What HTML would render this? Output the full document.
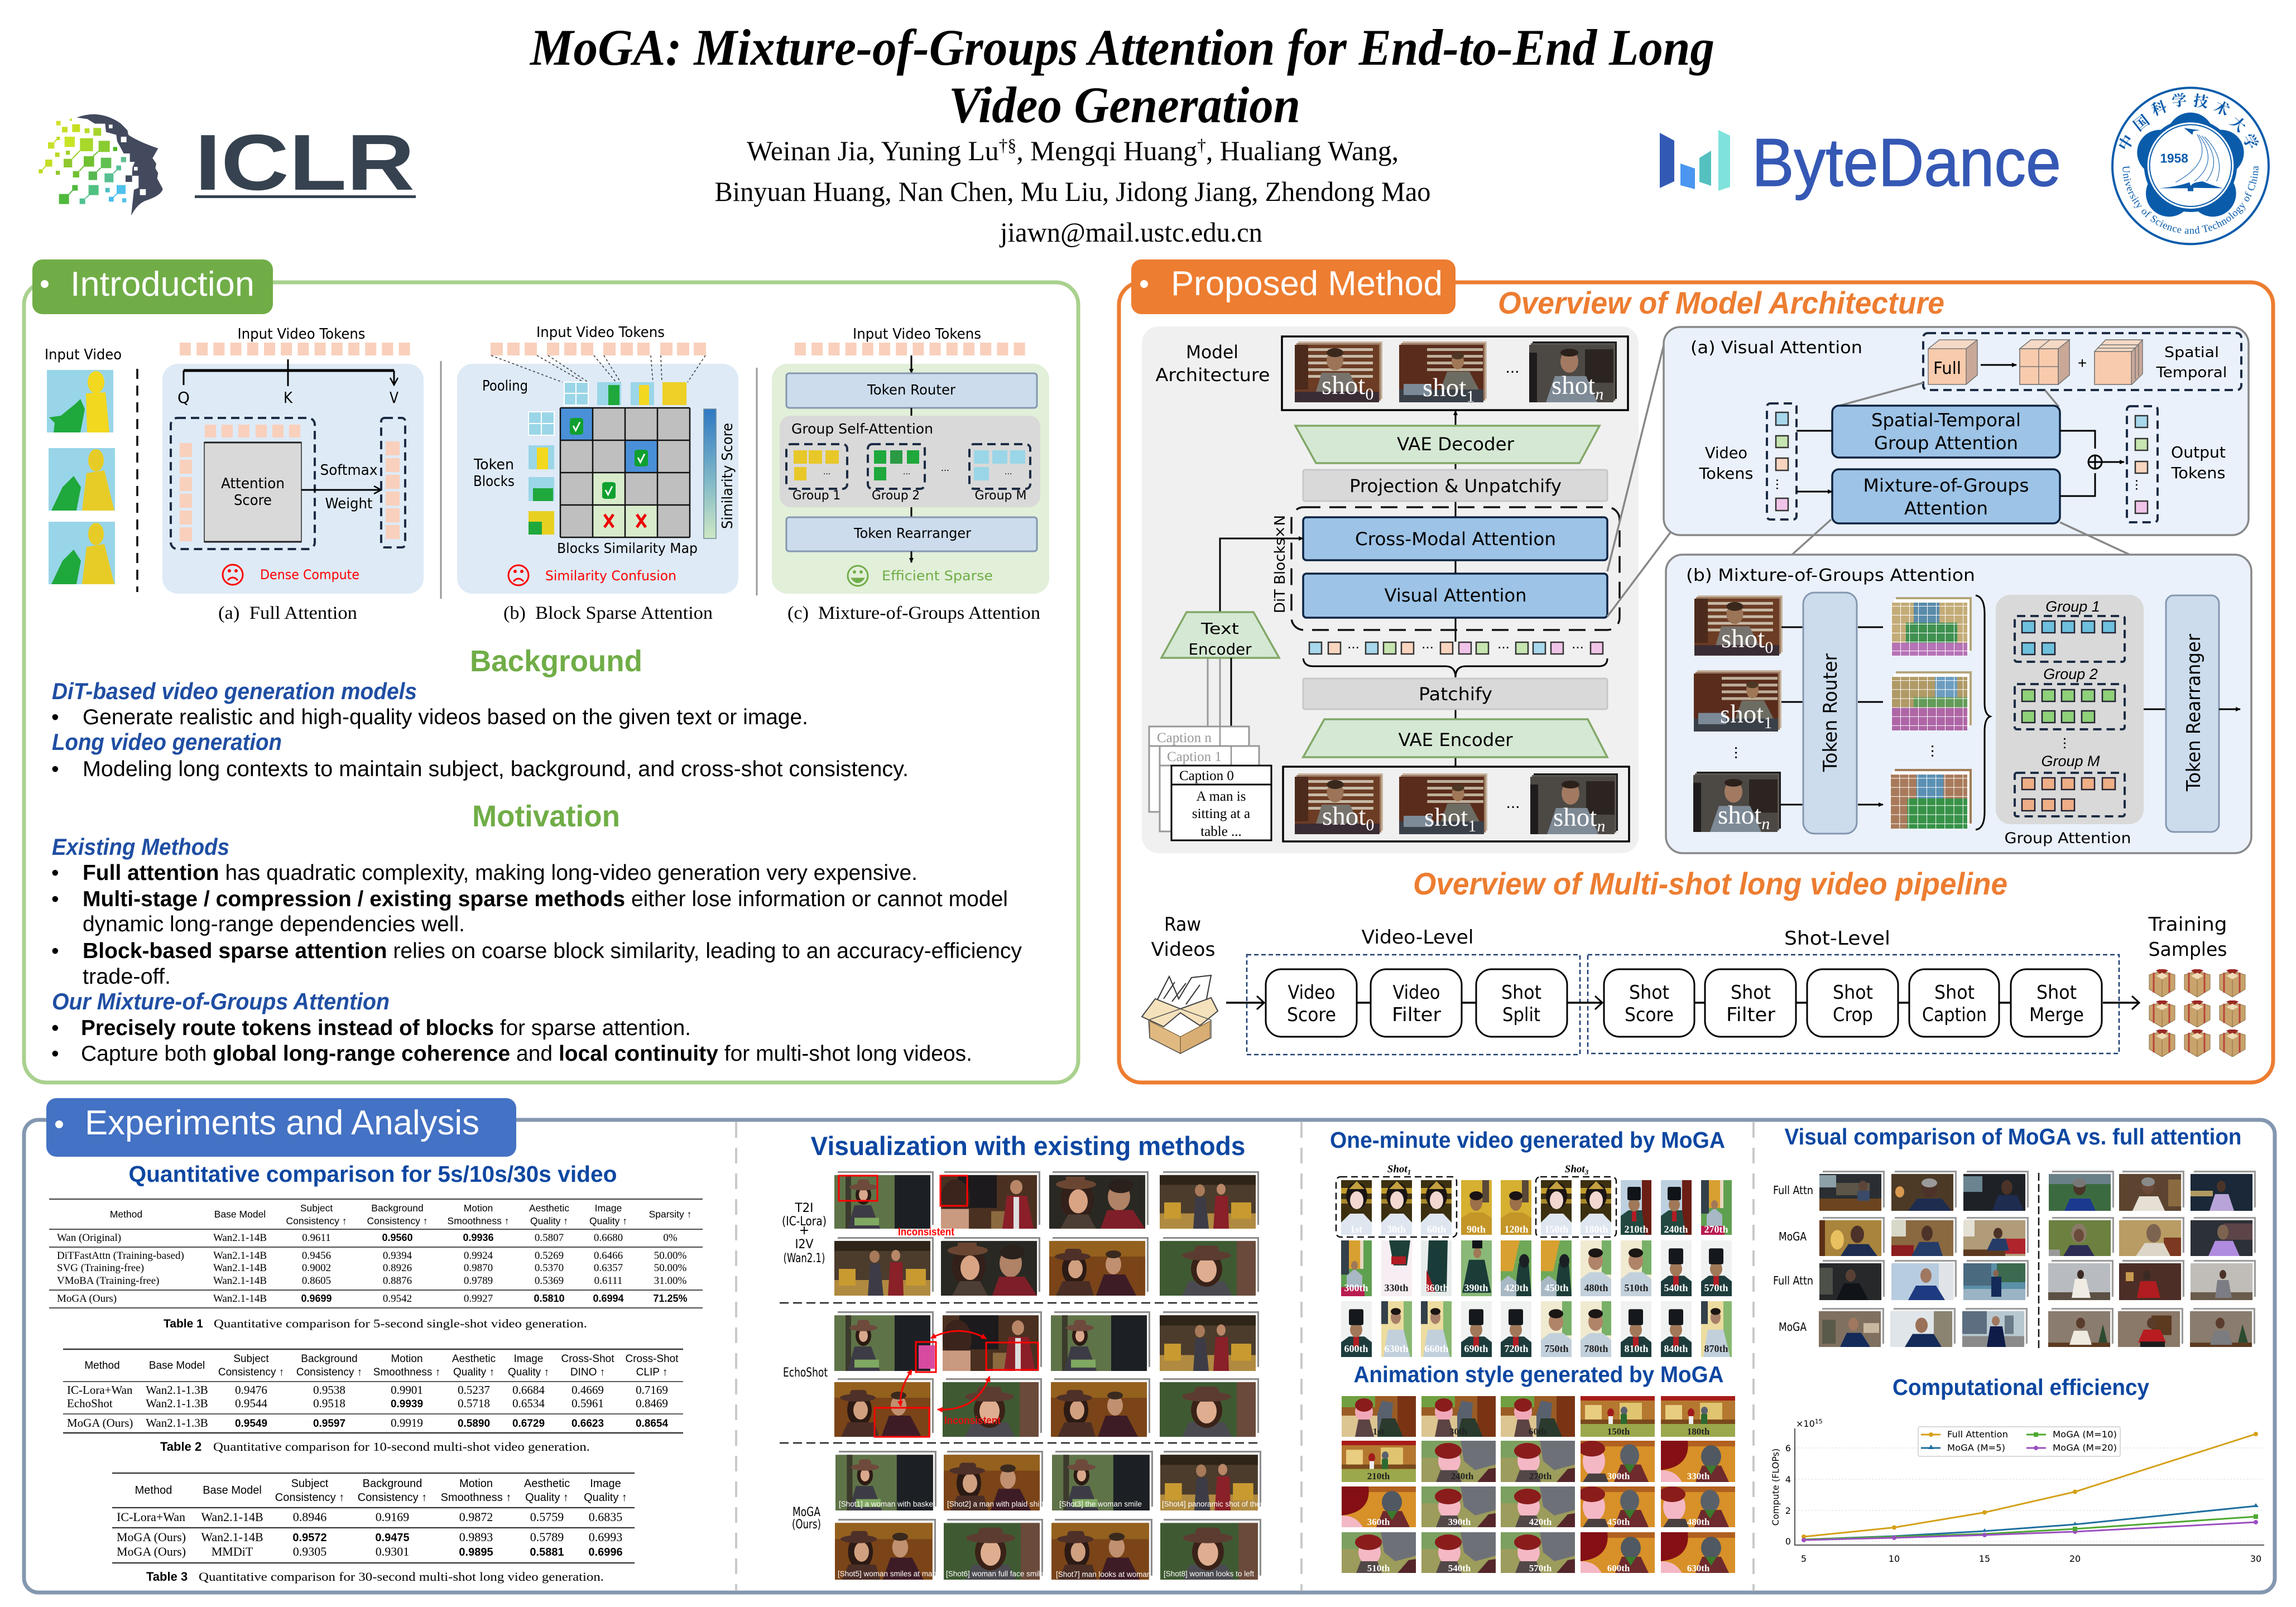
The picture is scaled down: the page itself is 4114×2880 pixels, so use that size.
<!DOCTYPE html>
<html><head><meta charset="utf-8"><title>MoGA poster</title>
<style>
html,body{margin:0;padding:0;background:#fff;width:4114px;height:2880px;overflow:hidden}
svg{display:block}
text{font-family:"Liberation Sans",sans-serif;fill:#000}
.c{font-family:"DejaVu Sans",sans-serif}
.t{font-family:"Liberation Serif",serif}
.m{text-anchor:middle}
.b{font-weight:bold}
.i{font-style:italic}
.g{fill:#70ad47;font-weight:bold}
.o{fill:#ed7d31;font-weight:bold;font-style:italic}
.h3{fill:#1f4ea3;font-weight:bold;font-style:italic;font-size:42px}
.p{font-size:39px}
.bl{fill:#0d47a1;font-weight:bold}
.w{fill:#fff}
.n{font-family:"Liberation Serif",serif;text-anchor:middle}
.nb{font-weight:bold;text-anchor:middle}
.l{font-family:"Liberation Serif",serif;fill:#fff;font-weight:bold;text-anchor:middle;font-size:18px}
.a{font-family:"Liberation Serif",serif;fill:#fff;font-weight:bold;text-anchor:middle;font-size:17px}
.sh{font-family:"Liberation Serif",serif;fill:#fff;font-size:47px}
.d{fill:none;stroke:#1c2c44;stroke-width:4;stroke-dasharray:15 9}
.ln{stroke:#000;stroke-width:3;fill:none}
.gl{stroke:#888;stroke-width:3.5;fill:none}
.cj{font-family:"Liberation Serif","Noto Serif CJK SC",serif;fill:#0a5cab;font-weight:bold;font-size:80px;text-anchor:middle}
</style></head><body>
<svg xmlns="http://www.w3.org/2000/svg" width="4114" height="2880" viewBox="0 0 4114 2880">
<defs>
<marker id="ar" markerWidth="10" markerHeight="10" refX="8" refY="4" orient="auto" markerUnits="userSpaceOnUse"><path d="M0 0L9 4L0 8Z" fill="#000"/></marker>
<marker id="ar2" markerWidth="18" markerHeight="18" refX="14" refY="8" orient="auto" markerUnits="userSpaceOnUse"><path d="M1 1L14 8L1 15" fill="none" stroke="#000" stroke-width="2.5"/></marker>
<marker id="rd" markerWidth="12" markerHeight="12" refX="9" refY="5" orient="auto-start-reverse" markerUnits="userSpaceOnUse"><path d="M0 0L10 5L0 10Z" fill="#f00"/></marker>
<g id="ts" fill="#f9d0bc"><rect x="0" width="20" height="23"/><rect x="30.2" width="20" height="23"/><rect x="60.4" width="20" height="23"/><rect x="90.6" width="20" height="23"/><rect x="120.8" width="20" height="23"/><rect x="151" width="20" height="23"/><rect x="181.2" width="20" height="23"/><rect x="211.4" width="20" height="23"/><rect x="241.6" width="20" height="23"/><rect x="271.8" width="20" height="23"/><rect x="302" width="20" height="23"/><rect x="332.2" width="20" height="23"/><rect x="362.4" width="20" height="23"/><rect x="392.6" width="20" height="23"/></g>
<pattern id="gw" width="16" height="16" patternUnits="userSpaceOnUse"><path d="M16 0H0V16" fill="none" stroke="#fff" stroke-width="2"/></pattern>
<linearGradient id="sc" x1="0" y1="0" x2="0" y2="1"><stop offset="0" stop-color="#2f78c4"/><stop offset=".55" stop-color="#7fb8c8"/><stop offset="1" stop-color="#cfe8c4"/></linearGradient>
<symbol id="kid" viewBox="0 0 119 112" preserveAspectRatio="none"><rect width="119" height="112" fill="#98d5e8"/><ellipse cx="88" cy="22" rx="15" ry="20" fill="#f3d820"/><path d="M70 42L105 40L112 112H72Z" fill="#f3d820"/><path d="M4 85L25 82L52 60L60 52L68 70L60 112H12L14 95Z" fill="#1fa83c"/></symbol>
<symbol id="kid2" viewBox="0 0 119 112" preserveAspectRatio="none"><rect width="119" height="112" fill="#98d5e8"/><ellipse cx="85" cy="22" rx="14" ry="20" fill="#e7cc28"/><path d="M68 45L100 40L118 112H60Z" fill="#e7cc28"/><path d="M5 112L25 70L45 50L58 70L50 112Z" fill="#1fa83c"/></symbol>
<symbol id="fr" viewBox="0 0 178 105" preserveAspectRatio="none"><rect x="6" y="0" width="172" height="98" fill="#8c8c8c"/><rect x="3" y="3" width="172" height="98" fill="#f4f4f4"/></symbol>
<symbol id="vA" viewBox="0 0 178 105" preserveAspectRatio="none"><use href="#fr" width="178" height="105"/><svg x="0" y="7" width="172" height="98" viewBox="0 0 172 98"><rect width="172" height="98" fill="#5f7348"/><rect x="20" width="10" height="98" fill="#3c3a2c"/><rect x="108" width="64" height="98" fill="#1c2024"/><path d="M24 98L36 55H66L82 98Z" fill="#3d3c46"/><ellipse cx="52" cy="36" rx="14" ry="18" fill="#2c1a14"/><ellipse cx="52" cy="36" rx="8" ry="11" fill="#d9a88c"/><ellipse cx="52" cy="22" rx="25" ry="6" fill="#6e4a3c"/><rect x="41" y="8" width="22" height="14" rx="6" fill="#6e4a3c"/><rect x="36" y="78" width="44" height="14" fill="#7fa860"/></svg></symbol>
<symbol id="vB" viewBox="0 0 178 105" preserveAspectRatio="none"><use href="#fr" width="178" height="105"/><svg x="0" y="7" width="172" height="98" viewBox="0 0 172 98"><rect width="172" height="98" fill="#4a3020"/><rect x="30" width="70" height="60" fill="#1c1a1c"/><ellipse cx="26" cy="42" rx="26" ry="34" fill="#3a241c"/><path d="M0 98V62H50V98Z" fill="#c99a80"/><rect x="90" y="66" width="40" height="32" fill="#8c6a40"/><ellipse cx="135" cy="22" rx="11" ry="13" fill="#b98668"/><path d="M110 98L118 38H154L166 98Z" fill="#8a1f28"/><rect x="130" y="40" width="10" height="58" fill="#ddd"/></svg></symbol>
<symbol id="vC" viewBox="0 0 178 105" preserveAspectRatio="none"><use href="#fr" width="178" height="105"/><svg x="0" y="7" width="172" height="98" viewBox="0 0 172 98"><rect width="172" height="98" fill="#2a2822"/><ellipse cx="50" cy="45" rx="30" ry="38" fill="#33201a"/><ellipse cx="52" cy="48" rx="17" ry="22" fill="#d9a484"/><ellipse cx="48" cy="17" rx="36" ry="9" fill="#6a4632"/><rect x="30" y="3" width="34" height="14" fill="#6a4632"/><path d="M20 98L34 72H70L84 98Z" fill="#4c3e34"/><ellipse cx="125" cy="40" rx="20" ry="25" fill="#b08266"/><ellipse cx="128" cy="20" rx="22" ry="13" fill="#2a201c"/><path d="M92 98L104 64H150L172 98Z" fill="#7e1e28"/></svg></symbol>
<symbol id="vD" viewBox="0 0 178 105" preserveAspectRatio="none"><use href="#fr" width="178" height="105"/><svg x="0" y="7" width="172" height="98" viewBox="0 0 172 98"><rect width="172" height="98" fill="#4c3c2c"/><rect y="0" width="172" height="18" fill="#2e2418"/><rect y="70" width="172" height="28" fill="#b08a40"/><rect x="8" y="50" width="30" height="30" fill="#c89a30"/><rect x="128" y="50" width="36" height="30" fill="#c89a30"/><ellipse cx="72" cy="28" rx="9" ry="11" fill="#a87a5a"/><path d="M60 98L64 40H82L88 98Z" fill="#3d3c46"/><ellipse cx="110" cy="26" rx="8" ry="10" fill="#b98668"/><path d="M96 98L100 38H122L124 98Z" fill="#8a2028"/></svg></symbol>
<symbol id="vE" viewBox="0 0 178 105" preserveAspectRatio="none"><use href="#fr" width="178" height="105"/><svg x="0" y="7" width="172" height="98" viewBox="0 0 172 98"><rect width="172" height="98" fill="#3f5a32"/><rect x="138" width="34" height="98" fill="#6a4a3a"/><path d="M40 98L52 72H116L130 98Z" fill="#4a4a50"/><ellipse cx="84" cy="50" rx="28" ry="32" fill="#3a2218"/><ellipse cx="84" cy="52" rx="18" ry="22" fill="#dfae90"/><ellipse cx="84" cy="26" rx="44" ry="9" fill="#5c3c30"/><rect x="62" y="8" width="44" height="18" rx="8" fill="#5c3c30"/></svg></symbol>
<symbol id="vF" viewBox="0 0 178 105" preserveAspectRatio="none"><use href="#fr" width="178" height="105"/><svg x="0" y="7" width="172" height="98" viewBox="0 0 172 98"><rect width="172" height="98" fill="#7a4418"/><rect x="0" y="0" width="172" height="28" fill="#94601e"/><ellipse cx="45" cy="50" rx="22" ry="30" fill="#2c1a14"/><ellipse cx="47" cy="50" rx="13" ry="17" fill="#d0a080"/><ellipse cx="42" cy="28" rx="32" ry="7" fill="#4e3028"/><rect x="28" y="14" width="30" height="14" rx="6" fill="#4e3028"/><path d="M12 98L24 72H72L80 98Z" fill="#4a2e26"/><ellipse cx="115" cy="42" rx="14" ry="18" fill="#c09070"/><ellipse cx="115" cy="24" rx="14" ry="7" fill="#3a2a1e"/><path d="M84 98L98 60H136L156 98Z" fill="#3e1c26"/></svg></symbol>
<symbol id="s0" viewBox="0 0 157 109" preserveAspectRatio="none"><rect x="6" y="0" width="151" height="103" fill="#c7b4a0"/><rect x="3" y="3" width="151" height="103" fill="#9c7c62"/><rect y="6" width="151" height="103" fill="#6c3c24"/><g fill="#c7baa6"><rect x="12" y="12" width="128" height="5"/><rect x="12" y="24" width="128" height="5"/><rect x="12" y="36" width="128" height="5"/><rect x="12" y="48" width="128" height="5"/><rect x="12" y="60" width="128" height="5"/></g><rect x="0" y="6" width="24" height="80" fill="#4c2a1c"/><ellipse cx="72" cy="34" rx="15" ry="18" fill="#9c7458"/><ellipse cx="72" cy="20" rx="15" ry="8" fill="#3a281c"/><path d="M36 96L48 56H98L118 96Z" fill="#77736c"/><rect y="90" width="151" height="19" fill="#3a2c34"/></symbol>
<symbol id="s1" viewBox="0 0 157 109" preserveAspectRatio="none"><rect x="6" y="0" width="151" height="103" fill="#c7b4a0"/><rect x="3" y="3" width="151" height="103" fill="#9c7c62"/><rect y="6" width="151" height="103" fill="#5a2c1c"/><g fill="#bdaf9a"><rect x="50" y="12" width="100" height="5"/><rect x="50" y="24" width="100" height="5"/><rect x="50" y="36" width="100" height="5"/><rect x="50" y="48" width="100" height="5"/></g><ellipse cx="105" cy="36" rx="11" ry="14" fill="#a07858"/><ellipse cx="105" cy="26" rx="11" ry="6" fill="#4c3824"/><path d="M72 92L86 54H126L146 92Z" fill="#6d6c62"/><rect y="86" width="151" height="23" fill="#3a4048"/><rect x="8" y="76" width="50" height="20" fill="#7c8a98"/></symbol>
<symbol id="sn" viewBox="0 0 157 109" preserveAspectRatio="none"><rect x="6" y="0" width="151" height="103" fill="#1c1c1c"/><rect x="3" y="3" width="151" height="103" fill="#5c5650"/><rect y="6" width="151" height="103" fill="#4c4844"/><rect x="100" y="14" width="51" height="60" fill="#2c2420"/><ellipse cx="72" cy="36" rx="16" ry="20" fill="#a27a62"/><ellipse cx="72" cy="20" rx="16" ry="7" fill="#2c201a"/><path d="M30 109L46 62H102L122 109Z" fill="#7e8a96"/><rect x="0" y="20" width="14" height="89" fill="#1e1c1c"/></symbol>
<symbol id="gA" viewBox="0 0 144 105" preserveAspectRatio="none"><rect x="8" y="0" width="136" height="96" fill="#b4a67a"/><rect x="4" y="4" width="136" height="96" fill="#fff"/><rect x="0" y="10" width="136" height="95" fill="#c4ac78"/><rect x="40" y="10" width="46" height="36" fill="#5a8caa"/><rect x="26" y="46" width="92" height="36" fill="#3f9150"/><rect y="82" width="136" height="23" fill="#b673b6"/><rect y="10" width="136" height="95" fill="url(#gw)"/></symbol>
<symbol id="gB" viewBox="0 0 144 105" preserveAspectRatio="none"><rect x="8" y="0" width="136" height="96" fill="#b4a67a"/><rect x="4" y="4" width="136" height="96" fill="#fff"/><rect x="0" y="10" width="136" height="95" fill="#b09a66"/><rect x="78" y="10" width="40" height="36" fill="#6d9dc0"/><rect x="40" y="46" width="96" height="18" fill="#629c58"/><rect y="64" width="136" height="41" fill="#ae66a6"/><rect y="10" width="136" height="95" fill="url(#gw)"/></symbol>
<symbol id="gC" viewBox="0 0 144 105" preserveAspectRatio="none"><rect x="8" y="0" width="136" height="96" fill="#a07c58"/><rect x="4" y="4" width="136" height="96" fill="#fff"/><rect x="0" y="10" width="136" height="95" fill="#a87a5a"/><rect x="46" y="10" width="48" height="42" fill="#5a90b4"/><rect x="30" y="52" width="106" height="53" fill="#379248"/><rect y="10" width="136" height="95" fill="url(#gw)"/></symbol>
<symbol id="cw" viewBox="0 0 55 98" preserveAspectRatio="none"><rect width="55" height="98" fill="#3c3010"/><rect y="14" width="55" height="10" fill="#c09c2c"/><rect y="34" width="55" height="8" fill="#a8882c"/><path d="M0 98V76L16 60H40L55 76V98Z" fill="#dfe6f0"/><ellipse cx="28" cy="28" rx="19" ry="24" fill="#1a1414"/><ellipse cx="28" cy="36" rx="12" ry="16" fill="#f2d8d0"/><path d="M14 16L28 2L42 16Z" fill="#c4a040"/></symbol>
<symbol id="ce" viewBox="0 0 55 98" preserveAspectRatio="none"><rect width="55" height="98" fill="#d6b030"/><rect x="38" width="12" height="40" fill="#5a4838"/><path d="M0 98V68L16 58H40L55 68V98Z" fill="#c49628"/><ellipse cx="27" cy="40" rx="11" ry="15" fill="#9c7048"/><ellipse cx="27" cy="28" rx="12" ry="8" fill="#1a1414"/></symbol>
<symbol id="ch" viewBox="0 0 55 98" preserveAspectRatio="none"><rect width="55" height="98" fill="#f0f2f2"/><path d="M0 98V72L14 62H42L55 72V98Z" fill="#1e3c3c"/><rect x="22" y="62" width="10" height="18" fill="#b01c24"/><ellipse cx="27" cy="50" rx="11" ry="13" fill="#a07858"/><rect x="14" y="14" width="26" height="28" rx="3" fill="#15181c"/></symbol>
<symbol id="cu" viewBox="0 0 55 98" preserveAspectRatio="none"><rect width="55" height="98" fill="#bcd0e0"/><rect x="38" width="17" height="98" fill="#6a1e14"/><path d="M0 98V64L14 54H38L44 98Z" fill="#224840"/><rect x="20" y="56" width="8" height="18" fill="#b01c24"/><ellipse cx="24" cy="44" rx="10" ry="12" fill="#a07858"/><rect x="12" y="12" width="24" height="24" rx="3" fill="#101418"/></symbol>
<symbol id="cp" viewBox="0 0 55 98" preserveAspectRatio="none"><rect width="55" height="98" fill="#5fa050"/><rect x="14" width="20" height="50" fill="#d8a030"/><rect x="0" width="14" height="60" fill="#34404a"/><rect x="34" width="6" height="50" fill="#e8d8c0"/><path d="M10 92V62L24 50L38 62V92Z" fill="#a8b8c4"/><ellipse cx="24" cy="44" rx="6" ry="8" fill="#a07858"/><rect y="82" width="42" height="16" fill="#b81c50"/></symbol>
<symbol id="cf" viewBox="0 0 55 98" preserveAspectRatio="none"><rect width="55" height="98" fill="#f6eef2"/><path d="M14 0H52L46 44H22Z" fill="#1e4038"/><rect x="18" y="28" width="26" height="14" fill="#b01c24"/></symbol>
<symbol id="cd" viewBox="0 0 55 98" preserveAspectRatio="none"><rect width="55" height="98" fill="#e8ecea"/><path d="M14 0H48L46 90H10Z" fill="#1a3c38"/><path d="M10 52L26 90H10Z" fill="#b01c24"/></symbol>
<symbol id="cg" viewBox="0 0 55 98" preserveAspectRatio="none"><rect width="55" height="98" fill="#8ab878"/><path d="M2 92L14 34H42L54 92Z" fill="#1c3c38"/><ellipse cx="29" cy="22" rx="7" ry="9" fill="#a07858"/><rect x="20" y="0" width="18" height="14" fill="#101418"/></symbol>
<symbol id="cq" viewBox="0 0 55 98" preserveAspectRatio="none"><rect width="55" height="98" fill="#6fa858"/><path d="M0 0H34L22 54H0Z" fill="#d8a030"/><path d="M24 98L32 40H50L55 98Z" fill="#1c3c38"/><ellipse cx="42" cy="36" rx="9" ry="12" fill="#1a2024"/><path d="M0 98V72L14 62L28 72V98Z" fill="#a8b8c4"/></symbol>
<symbol id="cb" viewBox="0 0 55 98" preserveAspectRatio="none"><rect width="55" height="98" fill="#f0ead0"/><rect x="38" width="17" height="60" fill="#78b068"/><path d="M0 98V68L16 56H40L55 68V98Z" fill="#c2d0dc"/><ellipse cx="27" cy="36" rx="13" ry="16" fill="#b08468"/><ellipse cx="27" cy="22" rx="13" ry="8" fill="#1c1614"/></symbol>
<symbol id="cr" viewBox="0 0 55 98" preserveAspectRatio="none"><rect width="55" height="98" fill="#ecdca0"/><rect x="40" width="15" height="98" fill="#88b870"/><rect x="0" width="12" height="40" fill="#34404a"/><path d="M4 98L12 50H40L52 98Z" fill="#c2d0dc"/><ellipse cx="26" cy="28" rx="9" ry="12" fill="#a88068"/><ellipse cx="26" cy="18" rx="9" ry="6" fill="#1c1614"/></symbol>
<symbol id="a1" viewBox="0 0 133 73" preserveAspectRatio="none"><rect width="133" height="73" fill="#9a5c24"/><rect width="60" height="20" fill="#70a040"/><rect y="35" width="70" height="38" fill="#dcc590"/><rect x="100" width="33" height="73" fill="#7a3414"/><path d="M64 73V32L72 8L92 12L90 40L110 73Z" fill="#59606e"/><path d="M64 73L72 40H96L110 73Z" fill="#2a3a2c"/><ellipse cx="40" cy="28" rx="16" ry="18" fill="#f0a8b8"/><ellipse cx="40" cy="16" rx="16" ry="12" fill="#8a1c1c"/><path d="M24 73L30 42H50L58 73Z" fill="#5c4444"/></symbol>
<symbol id="a2" viewBox="0 0 133 73" preserveAspectRatio="none"><rect width="133" height="73" fill="#b47830"/><rect y="0" width="133" height="8" fill="#a81c18"/><rect y="42" width="133" height="8" fill="#7a4a1c"/><rect y="50" width="133" height="23" fill="#9ca84c"/><rect x="70" y="12" width="40" height="30" fill="#e0c470"/><rect x="8" y="16" width="30" height="26" fill="#e8cc80"/><ellipse cx="54" cy="30" rx="6" ry="8" fill="#a01c1c"/><rect x="50" y="36" width="8" height="14" fill="#eee"/><ellipse cx="78" cy="26" rx="6" ry="7" fill="#59606e"/><rect x="72" y="32" width="11" height="18" fill="#2c6a30"/></symbol>
<symbol id="a3" viewBox="0 0 133 73" preserveAspectRatio="none"><rect width="133" height="73" fill="#9c9c5c"/><rect width="70" height="30" fill="#7ca060"/><path d="M70 0H133V42L96 52L76 36Z" fill="#6e7078"/><path d="M100 73L120 50L133 48V73Z" fill="#54262a"/><ellipse cx="50" cy="36" rx="20" ry="22" fill="#f4b8c4"/><ellipse cx="48" cy="18" rx="24" ry="14" fill="#8a1c1c"/><path d="M26 73L34 52H64L72 73Z" fill="#534848"/></symbol>
<symbol id="a4" viewBox="0 0 133 73" preserveAspectRatio="none"><rect width="133" height="73" fill="#d89028"/><rect width="133" height="10" fill="#b06020"/><ellipse cx="24" cy="36" rx="20" ry="26" fill="#f4b8c4"/><ellipse cx="20" cy="14" rx="24" ry="14" fill="#8a1c1c"/><path d="M4 73L14 58H44L50 73Z" fill="#4a4040"/><ellipse cx="88" cy="26" rx="17" ry="20" fill="#5a6068"/><path d="M60 73L72 42H108L122 73Z" fill="#6e2a2c"/><path d="M78 42L98 42L88 58Z" fill="#3a7a2c"/></symbol>
<symbol id="a5" viewBox="0 0 133 73" preserveAspectRatio="none"><rect width="133" height="73" fill="#d89028"/><rect width="133" height="10" fill="#b06020"/><path d="M0 0H48C52 30 36 48 0 52Z" fill="#840f14"/><path d="M0 52C20 52 30 60 38 73H0Z" fill="#f4b8c4"/><ellipse cx="90" cy="28" rx="18" ry="20" fill="#505862"/><path d="M62 73L74 44H108L122 73Z" fill="#6e2a2c"/><path d="M80 44L100 44L90 60Z" fill="#3a7a2c"/></symbol>
<symbol id="fx" viewBox="0 0 117 72" preserveAspectRatio="none"><rect x="6" y="0" width="111" height="66" fill="#9a9a9a"/><rect x="3" y="3" width="111" height="66" fill="#f2f2f2"/></symbol>
<symbol id="m1" viewBox="0 0 117 72" preserveAspectRatio="none"><use href="#fx" width="117" height="72"/><rect y="6" width="111" height="66" fill="#2a2e32"/><rect x="0" y="8" width="30" height="22" fill="#8ca0a8"/><rect x="30" y="22" width="60" height="22" fill="#5c5648"/><rect y="50" width="111" height="22" fill="#6c4420"/><ellipse cx="78" cy="28" rx="8" ry="10" fill="#5c4438"/><rect x="68" y="36" width="22" height="18" fill="#3a4a68"/></symbol>
<symbol id="m2" viewBox="0 0 117 72" preserveAspectRatio="none"><use href="#fx" width="117" height="72"/><rect y="6" width="111" height="66" fill="#4c3a26"/><ellipse cx="15" cy="38" rx="8" ry="10" fill="#d89a50"/><ellipse cx="68" cy="32" rx="14" ry="17" fill="#4c3228"/><ellipse cx="68" cy="22" rx="14" ry="8" fill="#9a9a9a"/><path d="M30 72L46 50H90L108 72Z" fill="#1e2c50"/></symbol>
<symbol id="m3" viewBox="0 0 117 72" preserveAspectRatio="none"><use href="#fx" width="117" height="72"/><rect y="6" width="111" height="66" fill="#1e2226"/><rect x="0" y="10" width="34" height="28" fill="#6a8490"/><ellipse cx="78" cy="30" rx="10" ry="13" fill="#4c3228"/><path d="M52 72L62 44H96L108 72Z" fill="#1e2c50"/></symbol>
<symbol id="m4" viewBox="0 0 117 72" preserveAspectRatio="none"><use href="#fx" width="117" height="72"/><rect y="6" width="111" height="66" fill="#a8843c"/><ellipse cx="32" cy="42" rx="12" ry="18" fill="#e8c060"/><rect x="0" y="6" width="10" height="66" fill="#5c3018"/><ellipse cx="68" cy="32" rx="12" ry="16" fill="#4c3228"/><path d="M38 72L52 50H88L104 72Z" fill="#1e2c50"/></symbol>
<symbol id="m5" viewBox="0 0 117 72" preserveAspectRatio="none"><use href="#fx" width="117" height="72"/><rect y="6" width="111" height="66" fill="#8a6840"/><rect x="0" y="6" width="26" height="30" fill="#d8d8c8"/><rect y="52" width="40" height="20" fill="#8c1c20"/><ellipse cx="64" cy="30" rx="10" ry="14" fill="#4c3228"/><path d="M36 72L50 46H84L92 72Z" fill="#263c68"/></symbol>
<symbol id="m6" viewBox="0 0 117 72" preserveAspectRatio="none"><use href="#fx" width="117" height="72"/><rect y="6" width="111" height="66" fill="#b09c78"/><rect x="0" y="6" width="20" height="30" fill="#e4e0d4"/><rect x="72" y="40" width="39" height="28" fill="#b0242c"/><rect y="60" width="75" height="12" fill="#5c3a20"/><ellipse cx="62" cy="30" rx="8" ry="10" fill="#4c3228"/><path d="M42 62L52 40H76L82 62Z" fill="#263c68"/></symbol>
<symbol id="w1" viewBox="0 0 117 72" preserveAspectRatio="none"><use href="#fx" width="117" height="72"/><rect y="6" width="111" height="66" fill="#3c6a40"/><rect y="6" width="111" height="18" fill="#6a8088"/><ellipse cx="55" cy="30" rx="11" ry="14" fill="#4a3428"/><ellipse cx="55" cy="22" rx="12" ry="8" fill="#777"/><path d="M28 72L38 50H74L84 72Z" fill="#1a3a90"/></symbol>
<symbol id="w2" viewBox="0 0 117 72" preserveAspectRatio="none"><use href="#fx" width="117" height="72"/><rect y="6" width="111" height="66" fill="#5c4430"/><rect x="88" y="16" width="23" height="48" fill="#8a6a40"/><ellipse cx="52" cy="28" rx="11" ry="14" fill="#6a4a38"/><ellipse cx="52" cy="20" rx="12" ry="8" fill="#8a8a8a"/><path d="M24 72L36 46H70L82 72Z" fill="#e6e0d4"/></symbol>
<symbol id="w3" viewBox="0 0 117 72" preserveAspectRatio="none"><use href="#fx" width="117" height="72"/><rect y="6" width="111" height="66" fill="#1a2838"/><rect x="0" y="36" width="40" height="10" fill="#b09a60"/><ellipse cx="55" cy="28" rx="8" ry="10" fill="#4a3428"/><path d="M34 72L44 42H68L78 72Z" fill="#b8a4d8"/></symbol>
<symbol id="w4" viewBox="0 0 117 72" preserveAspectRatio="none"><use href="#fx" width="117" height="72"/><rect y="6" width="111" height="66" fill="#6c8040"/><rect y="60" width="20" height="12" fill="#9a9a9a"/><ellipse cx="54" cy="30" rx="14" ry="18" fill="#8a7a66"/><ellipse cx="54" cy="34" rx="9" ry="12" fill="#6a4a38"/><path d="M26 72L38 52H70L82 72Z" fill="#2c2c54"/></symbol>
<symbol id="w5" viewBox="0 0 117 72" preserveAspectRatio="none"><use href="#fx" width="117" height="72"/><rect y="6" width="111" height="66" fill="#b89c64"/><rect x="80" y="38" width="31" height="34" fill="#7c3820"/><ellipse cx="62" cy="30" rx="13" ry="17" fill="#7c6450"/><path d="M30 72L46 48H80L92 72Z" fill="#dcd6c8"/></symbol>
<symbol id="w6" viewBox="0 0 117 72" preserveAspectRatio="none"><use href="#fx" width="117" height="72"/><rect y="6" width="111" height="66" fill="#2c3038"/><rect x="60" y="12" width="51" height="30" fill="#5c4448"/><ellipse cx="58" cy="28" rx="10" ry="14" fill="#7c6450"/><path d="M32 72L44 44H76L88 72Z" fill="#b08ce0"/></symbol>
<symbol id="n1" viewBox="0 0 117 72" preserveAspectRatio="none"><use href="#fx" width="117" height="72"/><rect y="6" width="111" height="66" fill="#26282a"/><rect x="0" y="14" width="24" height="48" fill="#4c5048"/><ellipse cx="56" cy="28" rx="9" ry="11" fill="#5a4034"/><path d="M30 72L44 42H72L88 72Z" fill="#101418"/></symbol>
<symbol id="n2" viewBox="0 0 117 72" preserveAspectRatio="none"><use href="#fx" width="117" height="72"/><rect y="6" width="111" height="66" fill="#b8cce0"/><rect x="85" y="6" width="26" height="66" fill="#e0e4e8"/><ellipse cx="62" cy="28" rx="10" ry="13" fill="#a07860"/><path d="M30 72L44 46H80L96 72Z" fill="#1e3a80"/></symbol>
<symbol id="n3" viewBox="0 0 117 72" preserveAspectRatio="none"><use href="#fx" width="117" height="72"/><rect y="6" width="111" height="66" fill="#5a90a8"/><rect x="0" y="6" width="50" height="40" fill="#4a6a80"/><rect x="60" y="6" width="51" height="34" fill="#3c6a50"/><rect y="52" width="111" height="20" fill="#9ab4c4"/><ellipse cx="58" cy="24" rx="5" ry="6" fill="#8a6450"/><rect x="50" y="30" width="18" height="36" fill="#142a58"/></symbol>
<symbol id="n4" viewBox="0 0 117 72" preserveAspectRatio="none"><use href="#fx" width="117" height="72"/><rect y="6" width="111" height="66" fill="#807060"/><rect x="6" y="22" width="24" height="44" fill="#5a5a4a"/><rect x="80" y="28" width="28" height="18" fill="#c8b8a0"/><ellipse cx="62" cy="30" rx="9" ry="12" fill="#a07860"/><path d="M38 72L50 46H76L92 72Z" fill="#142a58"/></symbol>
<symbol id="n5" viewBox="0 0 117 72" preserveAspectRatio="none"><use href="#fx" width="117" height="72"/><rect y="6" width="111" height="66" fill="#dfe5e8"/><rect x="78" y="6" width="33" height="66" fill="#8a8470"/><ellipse cx="56" cy="32" rx="11" ry="14" fill="#9a7058"/><path d="M26 72L40 48H78L92 72Z" fill="#142a58"/></symbol>
<symbol id="n6" viewBox="0 0 117 72" preserveAspectRatio="none"><use href="#fx" width="117" height="72"/><rect y="6" width="111" height="66" fill="#b8c8d0"/><rect x="0" y="6" width="44" height="42" fill="#5c6e80"/><rect x="76" y="14" width="16" height="34" fill="#6a7c88"/><rect y="52" width="111" height="20" fill="#8a8a8a"/><ellipse cx="60" cy="24" rx="7" ry="9" fill="#a07860"/><path d="M44 72L50 34H72L78 72Z" fill="#101c48"/></symbol>
<symbol id="x1" viewBox="0 0 117 72" preserveAspectRatio="none"><use href="#fx" width="117" height="72"/><rect y="6" width="111" height="66" fill="#b8bcc0"/><rect y="58" width="111" height="14" fill="#5c5044"/><ellipse cx="58" cy="26" rx="6" ry="8" fill="#3a2a24"/><path d="M42 68L48 34H68L76 68Z" fill="#f0ece4"/></symbol>
<symbol id="x2" viewBox="0 0 117 72" preserveAspectRatio="none"><use href="#fx" width="117" height="72"/><rect y="6" width="111" height="66" fill="#4c2e26"/><rect x="12" y="22" width="14" height="16" fill="#c89a50"/><ellipse cx="50" cy="28" rx="7" ry="9" fill="#3a2a24"/><path d="M32 68L38 38H66L74 68Z" fill="#b01c20"/></symbol>
<symbol id="x3" viewBox="0 0 117 72" preserveAspectRatio="none"><use href="#fx" width="117" height="72"/><rect y="6" width="111" height="66" fill="#c0bdb8"/><rect y="58" width="111" height="14" fill="#6a5c4c"/><ellipse cx="58" cy="26" rx="6" ry="8" fill="#4a3228"/><path d="M44 68L48 36H68L74 68Z" fill="#7c7c84"/></symbol>
<symbol id="y1" viewBox="0 0 117 72" preserveAspectRatio="none"><use href="#fx" width="117" height="72"/><rect y="6" width="111" height="66" fill="#8a7c6e"/><rect y="64" width="111" height="8" fill="#5c3a20"/><ellipse cx="58" cy="28" rx="8" ry="10" fill="#5a3c2c"/><path d="M38 68L46 42H70L78 68Z" fill="#eeeae0"/><path d="M90 64L98 30L106 64Z" fill="#2c4a30"/></symbol>
<symbol id="y2" viewBox="0 0 117 72" preserveAspectRatio="none"><use href="#fx" width="117" height="72"/><rect y="6" width="111" height="66" fill="#8a7868"/><rect x="60" y="14" width="36" height="36" fill="#5c3a20"/><ellipse cx="60" cy="28" rx="8" ry="10" fill="#5a3c2c"/><path d="M36 64L46 40H76L86 64Z" fill="#b81c20"/><rect x="40" y="62" width="44" height="10" fill="#1c1c1c"/></symbol>
<symbol id="y3" viewBox="0 0 117 72" preserveAspectRatio="none"><use href="#fx" width="117" height="72"/><rect y="6" width="111" height="66" fill="#8a7c6e"/><rect y="64" width="111" height="8" fill="#5c3a20"/><ellipse cx="54" cy="28" rx="8" ry="10" fill="#5a3c2c"/><path d="M36 68L44 42H68L76 68Z" fill="#7a7c80"/><path d="M86 64L94 30L104 64Z" fill="#2c4a30"/></symbol>
<symbol id="gift" viewBox="0 0 50 50" preserveAspectRatio="none"><path d="M2 10L24 3L48 10V36L25 50L2 36Z" fill="#c8a36c" stroke="#8a7048" stroke-width="1"/><path d="M25 14V50" stroke="#8a7048" stroke-width="1"/><path d="M10 6V42M38 6V42" stroke="#b8433a" stroke-width="3"/><path d="M14 2L25 12L36 2L30 0H20Z" fill="#9c2a24"/><path d="M14 12L25 6L36 12L25 18Z" fill="#efdcb8"/></symbol>
<symbol id="chk" viewBox="0 0 16 32" preserveAspectRatio="none"><rect width="16" height="32" rx="4" fill="#0fa030"/><path d="M4 15L7 24L12 8" fill="none" stroke="#fff" stroke-width="2"/></symbol>
</defs>
<rect width="4114" height="2880" fill="#fff"/>

<!-- header -->
<text x="2011" y="116" class="t b i m" font-size="92" textLength="2122" lengthAdjust="spacingAndGlyphs">MoGA: Mixture-of-Groups Attention for End-to-End Long</text>
<text x="2015" y="219" class="t b i m" font-size="92" textLength="630" lengthAdjust="spacingAndGlyphs">Video Generation</text>
<text x="1922" y="287" class="t m" font-size="50" textLength="1168" lengthAdjust="spacingAndGlyphs">Weinan Jia, Yuning Lu<tspan font-size="32" dy="-16">†§</tspan><tspan dy="16">, Mengqi Huang</tspan><tspan font-size="32" dy="-16">†</tspan><tspan dy="16">, Hualiang Wang,</tspan></text>
<text x="1922" y="360" class="t m" font-size="50" textLength="1283" lengthAdjust="spacingAndGlyphs">Binyuan Huang, Nan Chen, Mu Liu, Jidong Jiang, Zhendong Mao</text>
<text x="2027" y="433" class="t m" font-size="50" textLength="470" lengthAdjust="spacingAndGlyphs">jiawn@mail.ustc.edu.cn</text>

<!-- ICLR logo -->
<g transform="translate(60 190) scale(.33333)">
<path d="M232 62Q280 44 330 44Q410 50 470 95L505 130L510 155Q560 190 670 228L640 280L660 310L655 335L670 360L665 390L695 445Q690 480 600 510Q555 530 525 590L540 450L565 440V375H530L532 330L545 300H518V255H485L450 190L445 155L390 140L385 95H330L290 70Z" fill="#434a5e"/>
<g fill="#fff"><rect x="405" y="100" width="20" height="20"/><rect x="470" y="165" width="30" height="30"/><rect x="540" y="327" width="20" height="20"/><rect x="572" y="447" width="32" height="32"/></g>
<rect x="495" y="373" width="35" height="35" fill="#434a5e"/>
<g stroke-width="6" fill="none"><path d="M112 195L124 180M50 340L65 325" stroke="#c4dc24"/><path d="M208 284L250 240" stroke="#a0d02a"/><path d="M320 270L350 243M246 350L272 322" stroke="#70c030"/><path d="M342 352L362 332M190 475L212 452" stroke="#58b850"/><path d="M430 362L447 345M278 497L300 478" stroke="#58c090"/><path d="M430 490L450 470" stroke="#50c0ec"/></g>
<rect x="122" y="80" width="24" height="24" fill="#cfe02a"/><rect x="195" y="68" width="12" height="12" fill="#cfe02a"/><rect x="153" y="112" width="30" height="30" fill="#c8de2a"/><rect x="208" y="98" width="42" height="42" fill="#c8e020"/><rect x="275" y="120" width="26" height="26" fill="#b8da28"/><rect x="322" y="118" width="42" height="42" fill="#a8d42c"/>
<rect x="124" y="165" width="18" height="18" fill="#c0da20"/><rect x="78" y="195" width="34" height="34" fill="#c8e02a"/><rect x="167" y="165" width="55" height="55" fill="#c8e426"/><rect x="250" y="173" width="70" height="70" fill="#a8d82a"/><rect x="350" y="187" width="60" height="60" fill="#88cc30"/><rect x="428" y="220" width="22" height="22" fill="#50b828"/>
<rect x="116" y="250" width="24" height="24" fill="#bcd824"/><rect x="174" y="240" width="22" height="22" fill="#a0d02a"/><rect x="63" y="288" width="38" height="38" fill="#c4de26"/><rect x="162" y="284" width="46" height="46" fill="#90c82e"/><rect x="270" y="270" width="56" height="56" fill="#70c030"/><rect x="362" y="278" width="56" height="56" fill="#60c050"/><rect x="470" y="274" width="28" height="28" fill="#60c090"/>
<rect x="28" y="340" width="22" height="22" fill="#c0dc24"/><rect x="120" y="348" width="22" height="22" fill="#90c82e"/><rect x="212" y="350" width="34" height="34" fill="#70c030"/><rect x="296" y="352" width="46" height="46" fill="#58b850"/><rect x="382" y="362" width="48" height="48" fill="#58c090"/><rect x="445" y="320" width="26" height="26" fill="#58c098"/>
<rect x="208" y="425" width="30" height="30" fill="#50b83c"/><rect x="137" y="473" width="54" height="54" fill="#50b83c"/><rect x="296" y="425" width="54" height="54" fill="#50c080"/><rect x="248" y="497" width="30" height="30" fill="#50c090"/><rect x="386" y="440" width="24" height="24" fill="#50c0c0"/><rect x="447" y="425" width="48" height="48" fill="#50c0ec"/><rect x="405" y="488" width="26" height="26" fill="#48bcec"/><rect x="477" y="496" width="22" height="22" fill="#50c0e8"/>
</g>
<text x="349" y="340" font-size="142" class="b" style="fill:#36424f" textLength="394" lengthAdjust="spacingAndGlyphs">ICLR</text>
<rect x="349" y="350" width="396" height="5" fill="#36424f"/>

<!-- ByteDance -->
<path d="M2974 238L3000 252V325L2974 337Z" fill="#325ab4"/><path d="M3011 293L3037 302V339L3011 332Z" fill="#4a96f0"/><path d="M3045 283L3066 270V333L3045 326Z" fill="#55c0c0"/><path d="M3079 233L3100 243V335L3079 342Z" fill="#7fe3dc"/>
<text x="3139" y="333" font-size="122" style="fill:#3558b5;stroke:#3558b5;stroke-width:1.5" textLength="554" lengthAdjust="spacingAndGlyphs">ByteDance</text>

<!-- USTC seal -->
<g transform="translate(3780 150) scale(.33333)">
<circle cx="435" cy="442" r="420" fill="none" stroke="#0a5cab" stroke-width="12"/>
<g fill="#0a5cab"><circle cx="435" cy="280" r="125"/><circle cx="270" cy="370" r="122"/><circle cx="600" cy="370" r="122"/><circle cx="320" cy="590" r="125"/><circle cx="555" cy="590" r="125"/><circle cx="435" cy="440" r="250"/></g>
<circle cx="435" cy="440" r="232" fill="#fff"/><circle cx="435" cy="440" r="220" fill="#fff" stroke="#0a5cab" stroke-width="6"/>
<text x="347" y="425" class="b m" font-size="68" style="fill:#0a5cab">1958</text>
<path d="M265 562Q360 555 430 530L436 550Q445 530 500 525Q560 550 610 562L450 560V578H420V562Z" fill="#0a5cab"/>
<path d="M400 238L485 250L450 255L445 275Z" fill="#0a5cab"/>
<g fill="none" stroke="#0a5cab" stroke-width="3"><path d="M470 272Q560 420 355 530"/><path d="M480 275Q590 420 455 525"/><path d="M495 280Q610 410 520 525"/><path d="M510 285Q625 400 575 525"/></g>
<text transform="translate(112 332) rotate(-58)" class="cj">中</text><text transform="translate(188 233) rotate(-38)" class="cj">国</text><text transform="translate(275 158) rotate(-20)" class="cj">科</text><text transform="translate(378 118) rotate(-7)" class="cj">学</text><text transform="translate(487 123) rotate(8)" class="cj">技</text><text transform="translate(592 158) rotate(25)" class="cj">术</text><text transform="translate(672 238) rotate(43)" class="cj">大</text><text transform="translate(732 325) rotate(60)" class="cj">学</text>
<path id="sealB" d="M70 442A365 365 0 0 0 800 442" fill="none"/>
<text font-size="56" class="t" style="fill:#0a5cab"><textPath href="#sealB" textLength="1146" lengthAdjust="spacing">University of Science and Technology of China</textPath></text>
</g>

<!-- Intro panel -->
<rect x="43" y="506" width="1889" height="1434" rx="40" fill="#fff" stroke="#a9d18e" stroke-width="7"/>
<rect x="58" y="465" width="431" height="98" rx="18" fill="#70ad47"/>
<circle cx="80" cy="509" r="7" fill="#fff"/>
<text x="126" y="530" class="w" font-size="62" textLength="330" lengthAdjust="spacingAndGlyphs">Introduction</text>

<rect x="291" y="652" width="468" height="412" rx="28" fill="#deeaf6"/>
<rect x="819" y="652" width="504" height="412" rx="28" fill="#deeaf6"/>
<rect x="1383" y="652" width="497" height="412" rx="28" fill="#e2efd9"/>
<line x1="246" y1="661" x2="246" y2="1061" stroke="#000" stroke-width="3.5" stroke-dasharray="18 12"/>
<line x1="790" y1="647" x2="790" y2="1073" stroke="#999" stroke-width="3"/>
<line x1="1356" y1="659" x2="1356" y2="1067" stroke="#999" stroke-width="3"/>
<text x="149" y="644" class="c m" font-size="26" textLength="138" lengthAdjust="spacingAndGlyphs">Input Video</text>
<use href="#kid" x="84" y="663" width="119" height="112"/><use href="#kid2" x="87" y="803" width="119" height="112"/><use href="#kid2" x="87" y="935" width="119" height="112"/>

<!-- (a) full -->
<text x="540" y="607" class="c m" font-size="26" textLength="229" lengthAdjust="spacingAndGlyphs">Input Video Tokens</text>
<use href="#ts" x="322" y="614"/>
<path d="M329 664H706" stroke="#000" stroke-width="5"/>
<path d="M516 644V692M329 664V690M706 664V690" class="ln" marker-end="url(#ar2)"/>
<text x="329" y="722" class="c m" font-size="28" textLength="22" lengthAdjust="spacingAndGlyphs">Q</text><text x="516" y="722" class="c m" font-size="28" textLength="16" lengthAdjust="spacingAndGlyphs">K</text><text x="706" y="722" class="c m" font-size="28" textLength="16" lengthAdjust="spacingAndGlyphs">V</text>
<rect x="306" y="749" width="258" height="235" rx="12" class="d"/>
<g fill="#f9d0bc"><rect x="367" y="761" width="20" height="23"/><rect x="397" y="761" width="20" height="23"/><rect x="427" y="761" width="20" height="23"/><rect x="458" y="761" width="20" height="23"/><rect x="488" y="761" width="20" height="23"/><rect x="518" y="761" width="20" height="23"/></g>
<g fill="#f9d0bc"><rect x="322" y="794" width="22" height="25"/><rect x="322" y="824" width="22" height="25"/><rect x="322" y="855" width="22" height="25"/><rect x="322" y="885" width="22" height="25"/><rect x="322" y="915" width="22" height="25"/><rect x="322" y="945" width="22" height="25"/>
<rect x="691" y="791" width="25" height="25"/><rect x="691" y="821" width="25" height="25"/><rect x="691" y="851" width="25" height="25"/><rect x="691" y="881" width="25" height="25"/><rect x="691" y="911" width="25" height="25"/><rect x="691" y="941" width="25" height="25"/></g>
<rect x="366" y="793" width="174" height="178" fill="#d9d9d9" stroke="#555" stroke-width="2"/><path d="M366 793H540M366 971H540" stroke="#222" stroke-width="3"/>
<text x="453" y="875" class="c m" font-size="26" textLength="114" lengthAdjust="spacingAndGlyphs">Attention</text>
<text x="453" y="905" class="c m" font-size="26" textLength="68" lengthAdjust="spacingAndGlyphs">Score</text>
<path d="M540 878H683" class="ln" marker-end="url(#ar2)"/>
<text x="625" y="851" class="c m" font-size="26" textLength="103" lengthAdjust="spacingAndGlyphs">Softmax</text><text x="625" y="911" class="c m" font-size="26" textLength="85" lengthAdjust="spacingAndGlyphs">Weight</text>
<rect x="683" y="749" width="43" height="232" rx="6" class="d"/>
<g fill="none" stroke="#f00" stroke-width="3"><circle cx="417" cy="1030" r="18"/><path d="M408 1040Q417 1030 426 1040"/><circle cx="411" cy="1023" r="1.5"/><circle cx="423" cy="1023" r="1.5"/></g>
<text x="466" y="1038" class="c" font-size="24" style="fill:#f00" textLength="178" lengthAdjust="spacingAndGlyphs">Dense Compute</text>
<text x="391" y="1109" class="t" font-size="33" xml:space="preserve" textLength="249" lengthAdjust="spacingAndGlyphs">(a)  Full Attention</text>

<!-- (b) -->
<text x="1076" y="604" class="c m" font-size="26" textLength="230" lengthAdjust="spacingAndGlyphs">Input Video Tokens</text>
<g fill="#f9d0bc"><rect x="879" y="614" width="22" height="23"/><rect x="909" y="614" width="22" height="23"/><rect x="940" y="614" width="22" height="23"/><rect x="980" y="614" width="22" height="23"/><rect x="1011" y="614" width="22" height="23"/><rect x="1041" y="614" width="22" height="23"/><rect x="1081" y="614" width="22" height="23"/><rect x="1112" y="614" width="22" height="23"/><rect x="1142" y="614" width="22" height="23"/><rect x="1183" y="614" width="22" height="23"/><rect x="1213" y="614" width="22" height="23"/><rect x="1243" y="614" width="22" height="23"/></g>
<path d="M880 637L1008 685M962 637L1046 685M982 637L1054 685M1064 637L1104 685M1082 637L1112 685M1166 637L1170 685M1184 637L1186 685M1264 637L1232 685" stroke="#333" stroke-width="1.5" stroke-dasharray="4 4" fill="none"/>
<text x="905" y="700" class="c m" font-size="26" textLength="82" lengthAdjust="spacingAndGlyphs">Pooling</text>
<g fill="#9ad6e8" stroke="#fff" stroke-width="2"><rect x="1011" y="685" width="43" height="41"/><rect x="947" y="738" width="46" height="42"/></g>
<path d="M1032 685V726M1011 705H1054M970 738V780M947 759H993" stroke="#fff" stroke-width="2"/>
<rect x="1070" y="685" width="43" height="41" fill="#9ad6e8"/><rect x="1090" y="690" width="20" height="36" fill="#1fa83c"/>
<rect x="1130" y="685" width="42" height="41" fill="#9ad6e8"/><rect x="1145" y="690" width="18" height="36" fill="#f3d820"/>
<rect x="1187" y="685" width="43" height="41" fill="#eed028"/>
<rect x="947" y="798" width="46" height="43" fill="#9ad6e8"/><rect x="962" y="802" width="20" height="39" fill="#f3d820"/>
<rect x="947" y="855" width="46" height="43" fill="#9ad6e8"/><rect x="955" y="875" width="36" height="23" fill="#1fa83c"/>
<rect x="947" y="916" width="46" height="42" fill="#e8d020"/><rect x="947" y="935" width="24" height="23" fill="#1fa83c"/>
<rect x="1004" y="731" width="232" height="232" fill="#bfbfbf"/>
<rect x="1004" y="731" width="58" height="58" fill="#4a90d9"/><rect x="1120" y="789" width="58" height="58" fill="#4a90d9"/><rect x="1062" y="847" width="58" height="58" fill="#d8eccc"/><rect x="1062" y="905" width="116" height="58" fill="#d8eccc"/>
<path d="M1004 731H1236M1004 789H1236M1004 847H1236M1004 905H1236M1004 963H1236M1004 731V963M1062 731V963M1120 731V963M1178 731V963M1236 731V963" stroke="#111" stroke-width="2.5" fill="none"/>
<use href="#chk" x="1021" y="749" width="24" height="30"/><use href="#chk" x="1137" y="806" width="24" height="30"/><use href="#chk" x="1079" y="864" width="24" height="30"/>
<path d="M1083 922L1099 945M1099 922L1083 945M1141 922L1157 945M1157 922L1141 945" stroke="#e00" stroke-width="5"/>
<rect x="1261" y="733" width="22" height="232" fill="url(#sc)" stroke="#6a8a9a" stroke-width="1.5"/>
<text transform="translate(1312 853) rotate(-90)" class="c m" font-size="26" textLength="190" lengthAdjust="spacingAndGlyphs">Similarity Score</text>
<text x="885" y="841" class="c m" font-size="26" textLength="72" lengthAdjust="spacingAndGlyphs">Token</text><text x="885" y="871" class="c m" font-size="26" textLength="74" lengthAdjust="spacingAndGlyphs">Blocks</text>
<text x="1124" y="991" class="c m" font-size="25" textLength="252" lengthAdjust="spacingAndGlyphs">Blocks Similarity Map</text>
<g fill="none" stroke="#f00" stroke-width="3"><circle cx="929" cy="1031" r="18"/><path d="M920 1042Q929 1032 938 1042"/><circle cx="923" cy="1024" r="1.5"/><circle cx="935" cy="1024" r="1.5"/></g>
<text x="977" y="1040" class="c" font-size="24" style="fill:#f00" textLength="235" lengthAdjust="spacingAndGlyphs">Similarity Confusion</text>
<text x="902" y="1109" class="t" font-size="33" xml:space="preserve" textLength="375" lengthAdjust="spacingAndGlyphs">(b)  Block Sparse Attention</text>

<!-- (c) -->
<text x="1643" y="607" class="c m" font-size="26" textLength="230" lengthAdjust="spacingAndGlyphs">Input Video Tokens</text>
<use href="#ts" x="1424" y="614"/>
<path d="M1633 637V669" class="ln" marker-end="url(#ar)"/>
<rect x="1409" y="669" width="449" height="62" rx="5" fill="#ccdcec" stroke="#8497b0" stroke-width="3"/>
<text x="1633" y="707" class="c m" font-size="25" textLength="158" lengthAdjust="spacingAndGlyphs">Token Router</text>
<path d="M1633 731V745M1633 909V927" class="ln"/>
<rect x="1397" y="745" width="467" height="164" rx="20" fill="#d9d9d9"/>
<text x="1418" y="777" class="c" font-size="25" textLength="254" lengthAdjust="spacingAndGlyphs">Group Self-Attention</text>
<rect x="1409" y="796" width="109" height="80" rx="8" class="d"/><rect x="1555" y="796" width="102" height="80" rx="8" class="d"/><rect x="1737" y="796" width="109" height="80" rx="8" class="d"/>
<g><rect x="1422" y="807" width="24" height="24" fill="#e8c828"/><rect x="1449" y="807" width="24" height="24" fill="#e8c828"/><rect x="1479" y="807" width="24" height="24" fill="#e8c828"/><rect x="1423" y="837" width="22" height="24" fill="#e8c828"/><text x="1475" y="850" font-size="16">...</text>
<rect x="1566" y="807" width="22" height="24" fill="#1fa83c"/><rect x="1595" y="807" width="22" height="24" fill="#2a9a44"/><rect x="1625" y="807" width="22" height="24" fill="#1fa83c"/><rect x="1566" y="837" width="22" height="24" fill="#1fa83c"/><text x="1618" y="850" font-size="16">...</text>
<rect x="1745" y="807" width="27" height="24" fill="#9ad6e8"/><rect x="1778" y="807" width="27" height="24" fill="#9ad6e8"/><rect x="1810" y="807" width="27" height="24" fill="#9ad6e8"/><rect x="1745" y="837" width="27" height="24" fill="#9ad6e8"/><text x="1800" y="850" font-size="16">...</text>
<text x="1686" y="844" font-size="18">...</text></g>
<text x="1463" y="895" class="c m" font-size="22" textLength="86" lengthAdjust="spacingAndGlyphs">Group 1</text><text x="1605" y="895" class="c m" font-size="22" textLength="86" lengthAdjust="spacingAndGlyphs">Group 2</text><text x="1793" y="895" class="c m" font-size="22" textLength="93" lengthAdjust="spacingAndGlyphs">Group M</text>
<rect x="1409" y="927" width="449" height="61" rx="5" fill="#ccdcec" stroke="#8497b0" stroke-width="3"/>
<text x="1635" y="964" class="c m" font-size="25" textLength="210" lengthAdjust="spacingAndGlyphs">Token Rearranger</text>
<path d="M1633 988V1008" class="ln" marker-end="url(#ar)"/>
<g fill="none" stroke="#70ad47" stroke-width="3"><circle cx="1537" cy="1032" r="18"/><path d="M1527 1037Q1537 1050 1547 1037Z" fill="#70ad47"/><circle cx="1531" cy="1025" r="1.5"/><circle cx="1543" cy="1025" r="1.5"/></g>
<text x="1580" y="1040" class="c" font-size="24" style="fill:#70ad47" textLength="199" lengthAdjust="spacingAndGlyphs">Efficient Sparse</text>
<text x="1411" y="1109" class="t" font-size="33" xml:space="preserve" textLength="453" lengthAdjust="spacingAndGlyphs">(c)  Mixture-of-Groups Attention</text>

<!-- Intro text -->
<text x="842" y="1203" class="g" font-size="54" textLength="309" lengthAdjust="spacingAndGlyphs">Background</text>
<text x="93" y="1253" class="h3" textLength="654" lengthAdjust="spacingAndGlyphs">DiT-based video generation models</text>
<text x="92" y="1298" class="p">•</text><text x="148" y="1298" class="p" textLength="1300" lengthAdjust="spacingAndGlyphs">Generate realistic and high-quality videos based on the given text or image.</text>
<text x="93" y="1344" class="h3" textLength="412" lengthAdjust="spacingAndGlyphs">Long video generation</text>
<text x="92" y="1391" class="p">•</text><text x="148" y="1391" class="p" textLength="1480" lengthAdjust="spacingAndGlyphs">Modeling long contexts to maintain subject, background, and cross-shot consistency.</text>
<text x="846" y="1481" class="g" font-size="54" textLength="265" lengthAdjust="spacingAndGlyphs">Motivation</text>
<text x="93" y="1532" class="h3" textLength="318" lengthAdjust="spacingAndGlyphs">Existing Methods</text>
<text x="92" y="1577" class="p">•</text><text x="148" y="1577" class="p" textLength="1496" lengthAdjust="spacingAndGlyphs"><tspan class="b">Full attention</tspan> has quadratic complexity, making long-video generation very expensive.</text>
<text x="92" y="1624" class="p">•</text><text x="148" y="1624" class="p" textLength="1658" lengthAdjust="spacingAndGlyphs"><tspan class="b">Multi-stage / compression / existing sparse methods</tspan> either lose information or cannot model</text>
<text x="148" y="1669" class="p" textLength="685" lengthAdjust="spacingAndGlyphs">dynamic long-range dependencies well.</text>
<text x="92" y="1717" class="p">•</text><text x="148" y="1717" class="p" textLength="1683" lengthAdjust="spacingAndGlyphs"><tspan class="b">Block-based sparse attention</tspan> relies on coarse block similarity, leading to an accuracy-efficiency</text>
<text x="148" y="1763" class="p" textLength="158" lengthAdjust="spacingAndGlyphs">trade-off.</text>
<text x="93" y="1809" class="h3" textLength="605" lengthAdjust="spacingAndGlyphs">Our Mixture-of-Groups Attention</text>
<text x="92" y="1855" class="p">•</text><text x="145" y="1855" class="p" textLength="1093" lengthAdjust="spacingAndGlyphs"><tspan class="b">Precisely route tokens instead of blocks</tspan> for sparse attention.</text>
<text x="92" y="1901" class="p">•</text><text x="145" y="1901" class="p" textLength="1597" lengthAdjust="spacingAndGlyphs">Capture both <tspan class="b">global long-range coherence</tspan> and <tspan class="b">local continuity</tspan> for multi-shot long videos.</text>

<!-- Method panel -->
<rect x="2005" y="506" width="2068" height="1434" rx="40" fill="#fff" stroke="#ed7d31" stroke-width="7"/>
<rect x="2027" y="465" width="581" height="98" rx="18" fill="#ed7d31"/>
<circle cx="2050" cy="509" r="7" fill="#fff"/>
<text x="2098" y="529" class="w" font-size="62" textLength="487" lengthAdjust="spacingAndGlyphs">Proposed Method</text>
<text x="2684" y="562" class="o" font-size="56" textLength="800" lengthAdjust="spacingAndGlyphs">Overview of Model Architecture</text>

<rect x="2046" y="585" width="890" height="944" rx="30" fill="#f0f0f0"/>
<rect x="2297" y="603" width="620" height="132" fill="none" stroke="#000" stroke-width="3.5"/>
<use href="#s0" x="2320" y="612" width="157" height="109"/><use href="#s1" x="2507" y="612" width="157" height="109"/><use href="#sn" x="2740" y="612" width="157" height="109"/>
<text x="2368" y="706" class="sh">shot<tspan font-size="30" dy="10">0</tspan></text><text x="2549" y="710" class="sh">shot<tspan font-size="30" dy="10">1</tspan></text><text x="2780" y="706" class="sh">shot<tspan font-size="30" dy="10" font-style="italic">n</tspan></text>
<text x="2710" y="668" class="m" font-size="30">...</text>
<text x="2172" y="642" class="c m" font-size="32" textLength="94" lengthAdjust="spacingAndGlyphs">Model</text><text x="2173" y="683" class="c m" font-size="32" textLength="205" lengthAdjust="spacingAndGlyphs">Architecture</text>
<path d="M2608 763V736" class="ln" marker-end="url(#ar)"/>
<path d="M2608 830V842M2608 898V927M2608 1004V1028M2608 1107V1150M2608 1271V1289M2608 1357V1374" class="ln"/>
<path d="M2321 763H2866L2830 830H2358Z" fill="#d5e8d4" stroke="#82a868" stroke-width="3.5"/>
<text x="2608" y="807" class="c m" font-size="32" textLength="210" lengthAdjust="spacingAndGlyphs">VAE Decoder</text>
<rect x="2335" y="842" width="545" height="56" rx="3" fill="#d9d9d9" stroke="#c8c8c8" stroke-width="3"/>
<text x="2608" y="882" class="c m" font-size="32" textLength="380" lengthAdjust="spacingAndGlyphs">Projection &amp; Unpatchify</text>
<rect x="2314" y="909" width="588" height="220" rx="22" fill="none" stroke="#111" stroke-width="3.5" stroke-dasharray="30 16"/>
<rect x="2335" y="927" width="545" height="77" rx="6" fill="#9dc3e6" stroke="#0c2340" stroke-width="3.5"/>
<text x="2608" y="977" class="c m" font-size="32" textLength="360" lengthAdjust="spacingAndGlyphs">Cross-Modal Attention</text>
<rect x="2335" y="1028" width="545" height="79" rx="6" fill="#9dc3e6" stroke="#0c2340" stroke-width="3.5"/>
<text x="2608" y="1078" class="c m" font-size="32" textLength="255" lengthAdjust="spacingAndGlyphs">Visual Attention</text>
<text transform="translate(2302 1011) rotate(-90)" class="c m" font-size="26" textLength="176" lengthAdjust="spacingAndGlyphs">DiT Blocks×N</text>
<path d="M2186 1097V965H2335" class="ln" marker-end="url(#ar)"/>
<path d="M2126 1097H2246L2292 1179H2081Z" fill="#d5e8d4" stroke="#82a868" stroke-width="3.5"/>
<text x="2186" y="1136" class="c m" font-size="28" textLength="68" lengthAdjust="spacingAndGlyphs">Text</text><text x="2186" y="1173" class="c m" font-size="28" textLength="113" lengthAdjust="spacingAndGlyphs">Encoder</text>
<path d="M2164 1179V1302M2186 1179V1337" stroke="#999" stroke-width="3"/><path d="M2206 1179V1372" stroke="#000" stroke-width="3"/>
<rect x="2059" y="1302" width="179" height="153" fill="#fff" stroke="#999" stroke-width="3"/><path d="M2059 1337H2238" stroke="#999" stroke-width="3"/>
<rect x="2078" y="1337" width="178" height="153" fill="#fff" stroke="#999" stroke-width="3"/><path d="M2078 1372H2256" stroke="#999" stroke-width="3"/>
<path d="M2186 1302V1337M2206 1337V1372" stroke="#888" stroke-width="2"/>
<text x="2073" y="1330" class="t" font-size="25" style="fill:#999">Caption n</text><text x="2091" y="1364" class="t" font-size="25" style="fill:#999">Caption 1</text>
<rect x="2099" y="1372" width="179" height="134" fill="#fff" stroke="#000" stroke-width="3"/><path d="M2099 1406H2278" stroke="#000" stroke-width="3"/>
<text x="2113" y="1398" class="t" font-size="25">Caption 0</text>
<text x="2188" y="1435" class="t m" font-size="25">A man is</text><text x="2188" y="1466" class="t m" font-size="25">sitting at a</text><text x="2188" y="1498" class="t m" font-size="25">table ...</text>
<!-- row tokens -->
<g stroke="#333" stroke-width="2.5"><rect x="2346" y="1151" width="22" height="21" fill="#a8d8ec"/><rect x="2380" y="1151" width="22" height="21" fill="#f9d5c0"/><rect x="2447" y="1151" width="22" height="21" fill="#a8d8ec"/><rect x="2479" y="1151" width="22" height="21" fill="#c6e5b0"/><rect x="2511" y="1151" width="22" height="21" fill="#f9d5c0"/><rect x="2581" y="1151" width="22" height="21" fill="#f9d5c0"/><rect x="2614" y="1151" width="22" height="21" fill="#f0c4e8"/><rect x="2645" y="1151" width="22" height="21" fill="#c6e5b0"/><rect x="2716" y="1151" width="22" height="21" fill="#c6e5b0"/><rect x="2747" y="1151" width="22" height="21" fill="#a8d8ec"/><rect x="2779" y="1151" width="22" height="21" fill="#f0c4e8"/><rect x="2850" y="1151" width="22" height="21" fill="#f0c4e8"/></g>
<text x="2425" y="1162" class="m" font-size="26">...</text><text x="2558" y="1162" class="m" font-size="26">...</text><text x="2694" y="1162" class="m" font-size="26">...</text><text x="2827" y="1162" class="m" font-size="26">...</text>
<path d="M2335 1180Q2337 1194 2352 1194H2590Q2608 1194 2608 1214Q2608 1194 2626 1194H2865Q2880 1194 2880 1180" class="ln"/>
<rect x="2335" y="1216" width="545" height="55" rx="3" fill="#d9d9d9" stroke="#c8c8c8" stroke-width="3"/>
<text x="2608" y="1255" class="c m" font-size="32" textLength="132" lengthAdjust="spacingAndGlyphs">Patchify</text>
<path d="M2373 1289H2845L2880 1357H2335Z" fill="#d5e8d4" stroke="#82a868" stroke-width="3.5"/>
<text x="2608" y="1337" class="c m" font-size="32" textLength="205" lengthAdjust="spacingAndGlyphs">VAE Encoder</text>
<rect x="2299" y="1374" width="620" height="134" fill="none" stroke="#000" stroke-width="3.5"/>
<use href="#s0" x="2320" y="1386" width="158" height="109"/><use href="#s1" x="2507" y="1386" width="158" height="109"/><use href="#sn" x="2742" y="1386" width="157" height="109"/>
<text x="2369" y="1478" class="sh">shot<tspan font-size="30" dy="10">0</tspan></text><text x="2552" y="1480" class="sh">shot<tspan font-size="30" dy="10">1</tspan></text><text x="2783" y="1480" class="sh">shot<tspan font-size="30" dy="10" font-style="italic">n</tspan></text>
<text x="2711" y="1448" class="m" font-size="30">...</text>
<path d="M2880 1024L2981 619M2880 1105L2994 953" class="gl"/>

<!-- (a) Visual Attention -->
<rect x="2981" y="586" width="1048" height="373" rx="30" fill="#eaf1fb" stroke="#888" stroke-width="3.5"/>
<text x="3029" y="633" class="c" font-size="30" textLength="308" lengthAdjust="spacingAndGlyphs">(a) Visual Attention</text>
<rect x="3446" y="597" width="570" height="102" rx="8" class="d"/>
<path d="M3446 686L3296 727M3664 699L3689 729" class="gl"/>
<path d="M3455 625L3475 609H3543V672L3523 689H3455Z" fill="#f8cbad"/><path d="M3523 625L3543 609V672L3523 689Z" fill="#c9a898"/><path d="M3455 625L3475 609H3543L3523 625Z" fill="#f4d9c6"/><path d="M3455 625H3523V689H3455ZM3523 625L3543 609M3455 625L3475 609H3543V672L3523 689" fill="none" stroke="#777" stroke-width="1.5"/>
<text x="3489" y="670" class="c m" font-size="30" textLength="50" lengthAdjust="spacingAndGlyphs">Full</text>
<path d="M3549 654H3613" class="ln" marker-end="url(#ar)"/>
<g stroke="#777" stroke-width="1.5"><path d="M3619 625L3639 609H3708V672L3688 689H3619Z" fill="#f8cbad"/><path d="M3688 625L3708 609V672L3688 689Z" fill="#c9a898"/><path d="M3619 625L3639 609H3708L3688 625Z" fill="#f4d9c6"/><path d="M3619 625H3688V689H3619ZM3653 625V689M3619 657H3688M3653 625L3673 609" fill="none"/></g>
<text x="3731" y="660" class="m" font-size="28">+</text>
<g stroke="#777" stroke-width="1.5"><path d="M3753 630L3773 609H3839V670L3820 689H3753Z" fill="#c9a898"/><path d="M3753 630L3773 609H3839L3820 630Z" fill="#f4d9c6"/><rect x="3753" y="630" width="66" height="59" fill="#f8cbad"/><path d="M3826 622V680M3832 616V674M3758 624H3825M3764 618H3831" fill="none"/></g>
<text x="3927" y="640" class="c m" font-size="26" textLength="98" lengthAdjust="spacingAndGlyphs">Spatial</text><text x="3927" y="676" class="c m" font-size="26" textLength="127" lengthAdjust="spacingAndGlyphs">Temporal</text>
<rect x="3283" y="727" width="408" height="93" rx="12" fill="#9dc3e6" stroke="#0c2340" stroke-width="3.5"/>
<text x="3487" y="764" class="c m" font-size="32" textLength="268" lengthAdjust="spacingAndGlyphs">Spatial-Temporal</text><text x="3487" y="805" class="c m" font-size="32" textLength="258" lengthAdjust="spacingAndGlyphs">Group Attention</text>
<rect x="3283" y="841" width="408" height="97" rx="12" fill="#9dc3e6" stroke="#0c2340" stroke-width="3.5"/>
<text x="3487" y="881" class="c m" font-size="32" textLength="297" lengthAdjust="spacingAndGlyphs">Mixture-of-Groups</text><text x="3487" y="922" class="c m" font-size="32" textLength="150" lengthAdjust="spacingAndGlyphs">Attention</text>
<rect x="3166" y="723" width="53" height="208" rx="6" class="d"/>
<g stroke="#333" stroke-width="2.5"><rect x="3182" y="739" width="22" height="23" fill="#a8d8ec"/><rect x="3182" y="781" width="22" height="21" fill="#c6e5b0"/><rect x="3182" y="821" width="22" height="22" fill="#f9d5c0"/><rect x="3182" y="893" width="22" height="22" fill="#f0c4e8"/>
<rect x="3826" y="745" width="22" height="21" fill="#a8d8ec"/><rect x="3826" y="786" width="22" height="21" fill="#c6e5b0"/><rect x="3826" y="827" width="22" height="21" fill="#f9d5c0"/><rect x="3826" y="898" width="22" height="22" fill="#f0c4e8"/></g>
<text x="3193" y="878" class="m" font-size="26" transform="rotate(90 3193 868)">...</text><text x="3837" y="879" class="m" font-size="26" transform="rotate(90 3837 869)">...</text>
<text x="3093" y="821" class="c m" font-size="28" textLength="76" lengthAdjust="spacingAndGlyphs">Video</text><text x="3093" y="858" class="c m" font-size="28" textLength="97" lengthAdjust="spacingAndGlyphs">Tokens</text>
<path d="M3219 772H3283M3219 881H3283" class="ln" marker-end="url(#ar)"/>
<path d="M3691 772H3754V804M3691 889H3754V848M3766 828H3806" class="ln" marker-end="url(#ar)"/>
<circle cx="3754" cy="828" r="12" fill="none" stroke="#000" stroke-width="3"/><path d="M3742 828H3766M3754 816V840" class="ln"/>
<rect x="3811" y="728" width="55" height="208" rx="6" class="d"/>
<text x="3939" y="820" class="c m" font-size="28" textLength="98" lengthAdjust="spacingAndGlyphs">Output</text><text x="3939" y="857" class="c m" font-size="28" textLength="97" lengthAdjust="spacingAndGlyphs">Tokens</text>
<path d="M3281 931L3211 994M3691 936L3816 994" class="gl"/>

<!-- (b) MoG -->
<rect x="2985" y="994" width="1049" height="535" rx="30" fill="#eaf1fb" stroke="#888" stroke-width="3.5"/>
<text x="3021" y="1041" class="c" font-size="30" textLength="518" lengthAdjust="spacingAndGlyphs">(b) Mixture-of-Groups Attention</text>
<use href="#s0" x="3036" y="1067" width="158" height="108"/><use href="#s1" x="3035" y="1201" width="157" height="110"/><use href="#sn" x="3034" y="1383" width="157" height="108"/>
<text x="3084" y="1160" class="sh">shot<tspan font-size="30" dy="10">0</tspan></text><text x="3082" y="1295" class="sh">shot<tspan font-size="30" dy="10">1</tspan></text><text x="3078" y="1476" class="sh">shot<tspan font-size="30" dy="10" font-style="italic">n</tspan></text>
<text x="3118" y="1358" class="m" font-size="30" transform="rotate(90 3118 1349)">...</text><text x="3470" y="1355" class="m" font-size="30" transform="rotate(90 3470 1346)">...</text>
<path d="M3192 1124H3231M3192 1258H3231M3191 1442H3231" class="ln"/>
<rect x="3231" y="1062" width="96" height="432" rx="20" fill="#ccdcec" stroke="#8497b0" stroke-width="3"/>
<text transform="translate(3291 1277) rotate(-90)" class="c m" font-size="34" textLength="212" lengthAdjust="spacingAndGlyphs">Token Router</text>
<path d="M3329 1124H3374M3329 1258H3374M3329 1442H3374" class="ln" marker-end="url(#ar)"/>
<use href="#gA" x="3389" y="1070" width="144" height="105"/><use href="#gB" x="3389" y="1203" width="144" height="106"/><use href="#gC" x="3387" y="1378" width="146" height="107"/>
<path d="M3540 1067Q3556 1070 3556 1100V1260Q3556 1280 3566 1284Q3556 1288 3556 1310V1455Q3556 1485 3540 1487" class="ln"/>
<rect x="3576" y="1066" width="265" height="411" rx="26" fill="#d9d9d9"/>
<text x="3714" y="1096" class="i m" font-size="27">Group 1</text><text x="3710" y="1217" class="i m" font-size="27">Group 2</text><text x="3710" y="1373" class="i m" font-size="27">Group M</text>
<rect x="3610" y="1104" width="197" height="82" rx="4" class="d"/><rect x="3610" y="1226" width="197" height="81" rx="4" class="d"/><rect x="3610" y="1385" width="197" height="78" rx="4" class="d"/>
<g stroke="#223" stroke-width="2.5"><g fill="#6ec0dc"><rect x="3623" y="1113" width="23" height="21"/><rect x="3659" y="1113" width="23" height="21"/><rect x="3694" y="1113" width="23" height="21"/><rect x="3730" y="1113" width="23" height="21"/><rect x="3767" y="1113" width="23" height="21"/><rect x="3623" y="1152" width="23" height="21"/><rect x="3659" y="1152" width="23" height="21"/></g>
<g fill="#8fd07a"><rect x="3623" y="1236" width="23" height="21"/><rect x="3659" y="1236" width="23" height="21"/><rect x="3694" y="1236" width="23" height="21"/><rect x="3730" y="1236" width="23" height="21"/><rect x="3767" y="1236" width="23" height="21"/><rect x="3623" y="1274" width="23" height="21"/><rect x="3659" y="1274" width="23" height="21"/><rect x="3694" y="1274" width="23" height="21"/><rect x="3730" y="1274" width="23" height="21"/></g>
<g fill="#eeae86"><rect x="3623" y="1394" width="23" height="21"/><rect x="3659" y="1394" width="23" height="21"/><rect x="3694" y="1394" width="23" height="21"/><rect x="3730" y="1394" width="23" height="21"/><rect x="3767" y="1394" width="23" height="21"/><rect x="3623" y="1432" width="23" height="21"/><rect x="3659" y="1432" width="23" height="21"/><rect x="3694" y="1432" width="23" height="21"/></g></g>
<text x="3707" y="1341" class="m" font-size="28" transform="rotate(90 3707 1332)">...</text>
<text x="3705" y="1511" class="c m" font-size="27" textLength="227" lengthAdjust="spacingAndGlyphs">Group Attention</text>
<path d="M3841 1271H3881" class="ln"/>
<rect x="3881" y="1067" width="95" height="424" rx="14" fill="#ccdcec" stroke="#8497b0" stroke-width="3"/>
<text transform="translate(3942 1277) rotate(-90)" class="c m" font-size="34" textLength="282" lengthAdjust="spacingAndGlyphs">Token Rearranger</text>
<path d="M3976 1271H4014" class="ln" marker-end="url(#ar)"/>

<!-- pipeline -->
<text x="2532" y="1603" class="o" font-size="56" textLength="1065" lengthAdjust="spacingAndGlyphs">Overview of Multi-shot long video pipeline</text>
<text x="2119" y="1668" class="c m" font-size="34" textLength="66" lengthAdjust="spacingAndGlyphs">Raw</text><text x="2120" y="1713" class="c m" font-size="34" textLength="115" lengthAdjust="spacingAndGlyphs">Videos</text>
<text x="2540" y="1691" class="c m" font-size="34" textLength="201" lengthAdjust="spacingAndGlyphs">Video-Level</text><text x="3292" y="1693" class="c m" font-size="34" textLength="190" lengthAdjust="spacingAndGlyphs">Shot-Level</text>
<text x="3920" y="1668" class="c m" font-size="34" textLength="141" lengthAdjust="spacingAndGlyphs">Training</text><text x="3920" y="1713" class="c m" font-size="34" textLength="141" lengthAdjust="spacingAndGlyphs">Samples</text>
<rect x="2234" y="1711" width="597" height="179" fill="none" stroke="#1c3c70" stroke-width="2.5" stroke-dasharray="8 5"/>
<rect x="2845" y="1711" width="952" height="177" fill="none" stroke="#1c3c70" stroke-width="2.5" stroke-dasharray="8 5"/>
<path d="M2197 1797H2264M2808 1797H2869M3768 1797H3831" stroke="#000" stroke-width="3.5" fill="none"/>
<path d="M2252 1785L2265 1797L2252 1809M2858 1785L2871 1797L2858 1809M3820 1785L3833 1797L3820 1809" stroke="#000" stroke-width="3" fill="none"/>
<path d="M2431 1797H2456M2619 1797H2645M3036 1797H3055M3218 1797H3238M3401 1797H3421M3582 1797H3603" stroke="#000" stroke-width="3.5"/>
<g fill="#fff" stroke="#000" stroke-width="3"><rect x="2268" y="1737" width="163" height="121" rx="28"/><rect x="2456" y="1737" width="163" height="121" rx="28"/><rect x="2645" y="1737" width="163" height="121" rx="28"/><rect x="2874" y="1737" width="162" height="121" rx="28"/><rect x="3055" y="1737" width="163" height="121" rx="28"/><rect x="3238" y="1737" width="163" height="121" rx="28"/><rect x="3421" y="1737" width="161" height="121" rx="28"/><rect x="3603" y="1737" width="163" height="121" rx="28"/></g>
<g font-size="34"><text x="2350" y="1790" class="c m" textLength="85" lengthAdjust="spacingAndGlyphs">Video</text><text x="2350" y="1830" class="c m" textLength="88" lengthAdjust="spacingAndGlyphs">Score</text>
<text x="2538" y="1790" class="c m" textLength="85" lengthAdjust="spacingAndGlyphs">Video</text><text x="2538" y="1830" class="c m" textLength="88" lengthAdjust="spacingAndGlyphs">Filter</text>
<text x="2726" y="1790" class="c m" textLength="72" lengthAdjust="spacingAndGlyphs">Shot</text><text x="2726" y="1830" class="c m" textLength="68" lengthAdjust="spacingAndGlyphs">Split</text>
<text x="2955" y="1790" class="c m" textLength="72" lengthAdjust="spacingAndGlyphs">Shot</text><text x="2955" y="1830" class="c m" textLength="88" lengthAdjust="spacingAndGlyphs">Score</text>
<text x="3137" y="1790" class="c m" textLength="72" lengthAdjust="spacingAndGlyphs">Shot</text><text x="3137" y="1830" class="c m" textLength="88" lengthAdjust="spacingAndGlyphs">Filter</text>
<text x="3320" y="1790" class="c m" textLength="72" lengthAdjust="spacingAndGlyphs">Shot</text><text x="3320" y="1830" class="c m" textLength="72" lengthAdjust="spacingAndGlyphs">Crop</text>
<text x="3502" y="1790" class="c m" textLength="72" lengthAdjust="spacingAndGlyphs">Shot</text><text x="3502" y="1830" class="c m" textLength="116" lengthAdjust="spacingAndGlyphs">Caption</text>
<text x="3685" y="1790" class="c m" textLength="72" lengthAdjust="spacingAndGlyphs">Shot</text><text x="3685" y="1830" class="c m" textLength="98" lengthAdjust="spacingAndGlyphs">Merge</text></g>
<path d="M2072 1795L2095 1750L2112 1790L2135 1752L2170 1748L2160 1800L2115 1810Z" fill="#fff" stroke="#333" stroke-width="2"/>
<path d="M2085 1790L2105 1760M2100 1795L2125 1762M2125 1800L2150 1765" stroke="#333" stroke-width="2" fill="none"/>
<path d="M2115 1808L2070 1790L2046 1822L2085 1840L2115 1815L2150 1838L2182 1812L2170 1788Z" fill="#f5e2bc" stroke="#444" stroke-width="2"/>
<path d="M2060 1830L2115 1858V1888L2060 1860Z" fill="#e0b981" stroke="#8a7048" stroke-width="1.5"/><path d="M2115 1858L2168 1830V1860L2115 1888Z" fill="#d8ae74" stroke="#8a7048" stroke-width="1.5"/>
<path d="M2058 1828L2115 1808L2170 1828V1860L2115 1888L2060 1860Z" fill="none" stroke="#555" stroke-width="1.5"/>
<use href="#gift" x="3849" y="1737" width="50" height="50"/><use href="#gift" x="3912" y="1737" width="50" height="50"/><use href="#gift" x="3975" y="1737" width="50" height="50"/>
<use href="#gift" x="3849" y="1793" width="50" height="48"/><use href="#gift" x="3912" y="1793" width="50" height="48"/><use href="#gift" x="3975" y="1793" width="50" height="48"/>
<use href="#gift" x="3849" y="1845" width="50" height="49"/><use href="#gift" x="3912" y="1845" width="50" height="49"/><use href="#gift" x="3975" y="1845" width="50" height="49"/>

<!-- Experiments panel -->
<rect x="43" y="2007" width="4033" height="847" rx="26" fill="#fff" stroke="#8497b0" stroke-width="7"/>
<rect x="83" y="1968" width="842" height="105" rx="18" fill="#4472c4"/>
<circle cx="106" cy="2015" r="7" fill="#fff"/>
<text x="152" y="2033" class="w" font-size="62" textLength="707" lengthAdjust="spacingAndGlyphs">Experiments and Analysis</text>
<path d="M1319 2011V2851M2332 2011V2851M3142 2011V2851" stroke="#c9c9c9" stroke-width="4" stroke-dasharray="28 18"/>
<text x="668" y="2118" class="bl m" font-size="41" textLength="875" lengthAdjust="spacingAndGlyphs">Quantitative comparison for 5s/10s/30s video</text>

<!-- Table 1 -->
<path d="M88 2149H1259" stroke="#555" stroke-width="2.5"/><path d="M88 2203H1259M88 2235H1259M88 2312H1259M88 2344H1259" stroke="#333" stroke-width="1.8"/>
<g font-size="17.5"><text x="226" y="2182" class="m">Method</text><text x="430" y="2182" class="m">Base Model</text><text x="567" y="2171" class="m">Subject</text><text x="567" y="2194" class="m">Consistency ↑</text><text x="712" y="2171" class="m">Background</text><text x="712" y="2194" class="m">Consistency ↑</text><text x="857" y="2171" class="m">Motion</text><text x="857" y="2194" class="m">Smoothness ↑</text><text x="984" y="2171" class="m">Aesthetic</text><text x="984" y="2194" class="m">Quality ↑</text><text x="1090" y="2171" class="m">Image</text><text x="1090" y="2194" class="m">Quality ↑</text><text x="1201" y="2182" class="m">Sparsity ↑</text></g>
<g font-size="19">
<text x="102" y="2224" class="t">Wan (Original)</text><text x="430" y="2224" class="n">Wan2.1-14B</text><text x="567" y="2224" class="n">0.9611</text><text x="712" y="2224" class="nb" font-size="18">0.9560</text><text x="857" y="2224" class="nb" font-size="18">0.9936</text><text x="984" y="2224" class="n">0.5807</text><text x="1090" y="2224" class="n">0.6680</text><text x="1201" y="2224" class="n">0%</text>
<text x="102" y="2256" class="t">DiTFastAttn (Training-based)</text><text x="430" y="2256" class="n">Wan2.1-14B</text><text x="567" y="2256" class="n">0.9456</text><text x="712" y="2256" class="n">0.9394</text><text x="857" y="2256" class="n">0.9924</text><text x="984" y="2256" class="n">0.5269</text><text x="1090" y="2256" class="n">0.6466</text><text x="1201" y="2256" class="n">50.00%</text>
<text x="102" y="2278" class="t">SVG (Training-free)</text><text x="430" y="2278" class="n">Wan2.1-14B</text><text x="567" y="2278" class="n">0.9002</text><text x="712" y="2278" class="n">0.8926</text><text x="857" y="2278" class="n">0.9870</text><text x="984" y="2278" class="n">0.5370</text><text x="1090" y="2278" class="n">0.6357</text><text x="1201" y="2278" class="n">50.00%</text>
<text x="102" y="2301" class="t">VMoBA (Training-free)</text><text x="430" y="2301" class="n">Wan2.1-14B</text><text x="567" y="2301" class="n">0.8605</text><text x="712" y="2301" class="n">0.8876</text><text x="857" y="2301" class="n">0.9789</text><text x="984" y="2301" class="n">0.5369</text><text x="1090" y="2301" class="n">0.6111</text><text x="1201" y="2301" class="n">31.00%</text>
<text x="102" y="2333" class="t">MoGA (Ours)</text><text x="430" y="2333" class="n">Wan2.1-14B</text><text x="567" y="2333" class="nb" font-size="18">0.9699</text><text x="712" y="2333" class="n">0.9542</text><text x="857" y="2333" class="n">0.9927</text><text x="984" y="2333" class="nb" font-size="18">0.5810</text><text x="1090" y="2333" class="nb" font-size="18">0.6994</text><text x="1201" y="2333" class="nb" font-size="18">71.25%</text>
</g>
<text x="293" y="2379" class="b" font-size="21">Table 1</text><text x="383" y="2379" class="t" font-size="21" textLength="669" lengthAdjust="spacingAndGlyphs">Quantitative comparison for 5-second single-shot video generation.</text>

<!-- Table 2 -->
<path d="M113 2418H1224" stroke="#333" stroke-width="2.5"/><path d="M113 2476H1224M113 2534H1224" stroke="#444" stroke-width="1.8"/><path d="M113 2568H1224" stroke="#333" stroke-width="2.5"/>
<g font-size="19"><text x="183" y="2453" class="m">Method</text><text x="317" y="2453" class="m">Base Model</text><text x="450" y="2441" class="m">Subject</text><text x="450" y="2465" class="m">Consistency ↑</text><text x="590" y="2441" class="m">Background</text><text x="590" y="2465" class="m">Consistency ↑</text><text x="729" y="2441" class="m">Motion</text><text x="729" y="2465" class="m">Smoothness ↑</text><text x="849" y="2441" class="m">Aesthetic</text><text x="849" y="2465" class="m">Quality ↑</text><text x="947" y="2441" class="m">Image</text><text x="947" y="2465" class="m">Quality ↑</text><text x="1053" y="2441" class="m">Cross-Shot</text><text x="1053" y="2465" class="m">DINO ↑</text><text x="1168" y="2441" class="m">Cross-Shot</text><text x="1168" y="2465" class="m">CLIP ↑</text></g>
<g font-size="21">
<text x="120" y="2498" class="t">IC-Lora+Wan</text><text x="317" y="2498" class="n">Wan2.1-1.3B</text><text x="450" y="2498" class="n">0.9476</text><text x="590" y="2498" class="n">0.9538</text><text x="729" y="2498" class="n">0.9901</text><text x="849" y="2498" class="n">0.5237</text><text x="947" y="2498" class="n">0.6684</text><text x="1053" y="2498" class="n">0.4669</text><text x="1168" y="2498" class="n">0.7169</text>
<text x="120" y="2522" class="t">EchoShot</text><text x="317" y="2522" class="n">Wan2.1-1.3B</text><text x="450" y="2522" class="n">0.9544</text><text x="590" y="2522" class="n">0.9518</text><text x="729" y="2522" class="nb" font-size="19">0.9939</text><text x="849" y="2522" class="n">0.5718</text><text x="947" y="2522" class="n">0.6534</text><text x="1053" y="2522" class="n">0.5961</text><text x="1168" y="2522" class="n">0.8469</text>
<text x="120" y="2557" class="t">MoGA (Ours)</text><text x="317" y="2557" class="n">Wan2.1-1.3B</text><text x="450" y="2557" class="nb" font-size="19">0.9549</text><text x="590" y="2557" class="nb" font-size="19">0.9597</text><text x="729" y="2557" class="n">0.9919</text><text x="849" y="2557" class="nb" font-size="19">0.5890</text><text x="947" y="2557" class="nb" font-size="19">0.6729</text><text x="1053" y="2557" class="nb" font-size="19">0.6623</text><text x="1168" y="2557" class="nb" font-size="19">0.8654</text>
</g>
<text x="287" y="2600" class="b" font-size="22">Table 2</text><text x="382" y="2600" class="t" font-size="22" textLength="675" lengthAdjust="spacingAndGlyphs">Quantitative comparison for 10-second multi-shot video generation.</text>

<!-- Table 3 -->
<path d="M201 2640H1137M201 2702H1137M201 2738H1137M201 2801H1137" stroke="#333" stroke-width="2.2"/>
<g font-size="20"><text x="275" y="2677" class="m">Method</text><text x="416" y="2677" class="m">Base Model</text><text x="555" y="2665" class="m">Subject</text><text x="555" y="2690" class="m">Consistency ↑</text><text x="703" y="2665" class="m">Background</text><text x="703" y="2690" class="m">Consistency ↑</text><text x="853" y="2665" class="m">Motion</text><text x="853" y="2690" class="m">Smoothness ↑</text><text x="980" y="2665" class="m">Aesthetic</text><text x="980" y="2690" class="m">Quality ↑</text><text x="1085" y="2665" class="m">Image</text><text x="1085" y="2690" class="m">Quality ↑</text></g>
<g font-size="22">
<text x="209" y="2726" class="t">IC-Lora+Wan</text><text x="416" y="2726" class="n">Wan2.1-14B</text><text x="555" y="2726" class="n">0.8946</text><text x="703" y="2726" class="n">0.9169</text><text x="853" y="2726" class="n">0.9872</text><text x="980" y="2726" class="n">0.5759</text><text x="1085" y="2726" class="n">0.6835</text>
<text x="209" y="2762" class="t">MoGA (Ours)</text><text x="416" y="2762" class="n">Wan2.1-14B</text><text x="555" y="2762" class="nb" font-size="20">0.9572</text><text x="703" y="2762" class="nb" font-size="20">0.9475</text><text x="853" y="2762" class="n">0.9893</text><text x="980" y="2762" class="n">0.5789</text><text x="1085" y="2762" class="n">0.6993</text>
<text x="209" y="2788" class="t">MoGA (Ours)</text><text x="416" y="2788" class="n">MMDiT</text><text x="555" y="2788" class="n">0.9305</text><text x="703" y="2788" class="n">0.9301</text><text x="853" y="2788" class="nb" font-size="20">0.9895</text><text x="980" y="2788" class="nb" font-size="20">0.5881</text><text x="1085" y="2788" class="nb" font-size="20">0.6996</text>
</g>
<text x="262" y="2833" class="b" font-size="22">Table 3</text><text x="356" y="2833" class="t" font-size="22" textLength="726" lengthAdjust="spacingAndGlyphs">Quantitative comparison for 30-second multi-shot long video generation.</text>

<!-- Visualization -->
<text x="1842" y="2070" class="bl m" font-size="47" textLength="779" lengthAdjust="spacingAndGlyphs">Visualization with existing methods</text>
<use href="#vA" x="1495" y="2099" width="178" height="103"/><use href="#vB" x="1686" y="2099" width="178" height="103"/><use href="#vC" x="1880" y="2099" width="178" height="103"/><use href="#vD" x="2078" y="2099" width="178" height="103"/>
<use href="#vD" x="1495" y="2217" width="178" height="105"/><use href="#vC" x="1686" y="2217" width="178" height="105"/><use href="#vF" x="1880" y="2217" width="178" height="105"/><use href="#vE" x="2078" y="2217" width="178" height="105"/>
<use href="#vA" x="1495" y="2350" width="178" height="107"/><use href="#vB" x="1689" y="2350" width="178" height="107"/><use href="#vA" x="1883" y="2350" width="178" height="107"/><use href="#vD" x="2078" y="2350" width="178" height="107"/>
<use href="#vF" x="1495" y="2470" width="178" height="105"/><use href="#vE" x="1689" y="2470" width="178" height="105"/><use href="#vF" x="1883" y="2470" width="178" height="105"/><use href="#vE" x="2078" y="2470" width="178" height="105"/>
<use href="#vA" x="1497" y="2600" width="181" height="107"/><use href="#vF" x="1691" y="2600" width="178" height="107"/><use href="#vA" x="1885" y="2600" width="181" height="107"/><use href="#vD" x="2079" y="2600" width="181" height="107"/>
<use href="#vF" x="1496" y="2722" width="181" height="109"/><use href="#vE" x="1691" y="2722" width="178" height="109"/><use href="#vF" x="1884" y="2722" width="181" height="109"/><use href="#vE" x="2079" y="2722" width="181" height="109"/>
<g><text x="1503" y="2700" class="w" font-size="13.5">[Shot1] a woman with basket</text><text x="1697" y="2700" class="w" font-size="13.5">[Shot2] a man with plaid shirt</text><text x="1898" y="2700" class="w" font-size="13.5">[Shot3] the woman smile</text><text x="2082" y="2700" class="w" font-size="13.5">[Shot4] panoramic shot of them</text>
<text x="1501" y="2825" class="w" font-size="13.5">[Shot5] woman smiles at man</text><text x="1695" y="2825" class="w" font-size="13.5">[Shot6] woman full face smile</text><text x="1892" y="2826" class="w" font-size="13.5">[Shot7] man looks at woman</text><text x="2085" y="2825" class="w" font-size="13.5">[Shot8] woman looks to left</text></g>
<path d="M1397 2335H2258M1397 2586H2258" stroke="#222" stroke-width="2.5" stroke-dasharray="16 8"/>
<g font-size="22"><text x="1441" y="2172" class="c m" textLength="33" lengthAdjust="spacingAndGlyphs">T2I</text><text x="1441" y="2196" class="c m" textLength="80" lengthAdjust="spacingAndGlyphs">(IC-Lora)</text><text x="1441" y="2212" class="c m">+</text><text x="1441" y="2237" class="c m" textLength="33" lengthAdjust="spacingAndGlyphs">I2V</text><text x="1441" y="2262" class="c m" textLength="75" lengthAdjust="spacingAndGlyphs">(Wan2.1)</text><text x="1443" y="2467" class="c m" textLength="80" lengthAdjust="spacingAndGlyphs">EchoShot</text><text x="1445" y="2717" class="c m" textLength="50" lengthAdjust="spacingAndGlyphs">MoGA</text><text x="1445" y="2739" class="c m" textLength="52" lengthAdjust="spacingAndGlyphs">(Ours)</text></g>
<rect x="1646" y="2411" width="29" height="42" fill="#d84aa0"/>
<g fill="none" stroke="#f00" stroke-width="3"><rect x="1503" y="2107" width="69" height="45"/><rect x="1685" y="2107" width="48" height="54"/><rect x="1641" y="2405" width="36" height="54"/><rect x="1767" y="2406" width="93" height="49"/><rect x="1567" y="2523" width="98" height="52"/></g>
<g fill="none" stroke="#f00" stroke-width="3"><path d="M1668 2398Q1720 2372 1767 2399" marker-start="url(#rd)" marker-end="url(#rd)"/><path d="M1634 2455Q1610 2490 1614 2520" marker-start="url(#rd)" marker-end="url(#rd)"/><path d="M1773 2467Q1750 2530 1680 2526" marker-start="url(#rd)" marker-end="url(#rd)"/></g>
<text x="1609" y="2214" class="b" font-size="19" style="fill:#f00" textLength="101" lengthAdjust="spacingAndGlyphs">Inconsistent</text>
<text x="1692" y="2552" class="b" font-size="19" style="fill:#e21010" textLength="101" lengthAdjust="spacingAndGlyphs">Inconsistent</text>

<!-- One-minute -->
<text x="2737" y="2057" class="bl m" font-size="41" textLength="708" lengthAdjust="spacingAndGlyphs">One-minute video generated by MoGA</text>
<text x="2507" y="2101" class="t b i m" font-size="19">Shot<tspan font-size="13" dy="4">1</tspan></text><text x="2825" y="2101" class="t b i m" font-size="19">Shot<tspan font-size="13" dy="4">3</tspan></text>
<use href="#cw" x="2403" y="2115" width="55" height="98"/><use href="#cw" x="2475" y="2115" width="55" height="98"/><use href="#cw" x="2546" y="2115" width="55" height="98"/><use href="#ce" x="2618" y="2115" width="55" height="98"/><use href="#ce" x="2689" y="2115" width="55" height="98"/><use href="#cw" x="2761" y="2115" width="55" height="98"/><use href="#cw" x="2832" y="2115" width="55" height="98"/><use href="#cu" x="2904" y="2115" width="55" height="98"/><use href="#cu" x="2976" y="2115" width="55" height="98"/><use href="#cp" x="3048" y="2115" width="55" height="98"/>
<use href="#cp" x="2403" y="2223" width="55" height="100"/><use href="#cf" x="2475" y="2223" width="55" height="100"/><use href="#cd" x="2546" y="2223" width="55" height="100"/><use href="#cg" x="2618" y="2223" width="55" height="100"/><use href="#cq" x="2689" y="2223" width="55" height="100"/><use href="#cq" x="2761" y="2223" width="55" height="100"/><use href="#cb" x="2832" y="2223" width="55" height="100"/><use href="#cb" x="2904" y="2223" width="55" height="100"/><use href="#ch" x="2976" y="2223" width="55" height="100"/><use href="#ch" x="3048" y="2223" width="55" height="100"/>
<use href="#ch" x="2403" y="2332" width="55" height="100"/><use href="#cr" x="2475" y="2332" width="55" height="100"/><use href="#cr" x="2546" y="2332" width="55" height="100"/><use href="#ch" x="2618" y="2332" width="55" height="100"/><use href="#ch" x="2689" y="2332" width="55" height="100"/><use href="#cb" x="2761" y="2332" width="55" height="100"/><use href="#cb" x="2832" y="2332" width="55" height="100"/><use href="#ch" x="2904" y="2332" width="55" height="100"/><use href="#ch" x="2976" y="2332" width="55" height="100"/><use href="#cr" x="3048" y="2332" width="55" height="100"/>
<rect x="2394" y="2109" width="216" height="108" rx="8" fill="none" stroke="#111" stroke-width="2.5" stroke-dasharray="12 7"/><rect x="2752" y="2109" width="144" height="108" rx="8" fill="none" stroke="#111" stroke-width="2.5" stroke-dasharray="12 7"/>
<g><text x="2430" y="2209" class="l">1st</text><text x="2502" y="2209" class="l">30th</text><text x="2574" y="2209" class="l">60th</text><text x="2645" y="2209" class="l">90th</text><text x="2717" y="2209" class="l">120th</text><text x="2789" y="2209" class="l">150th</text><text x="2860" y="2209" class="l">180th</text><text x="2932" y="2209" class="l">210th</text><text x="3003" y="2209" class="l">240th</text><text x="3075" y="2209" class="l">270th</text>
<text x="2430" y="2314" class="l">300th</text><text x="2502" y="2314" class="l" style="fill:#222">330th</text><text x="2574" y="2314" class="l">360th</text><text x="2645" y="2314" class="l">390th</text><text x="2717" y="2314" class="l">420th</text><text x="2789" y="2314" class="l">450th</text><text x="2860" y="2314" class="l" style="fill:#222">480th</text><text x="2932" y="2314" class="l" style="fill:#222">510th</text><text x="3003" y="2314" class="l">540th</text><text x="3075" y="2314" class="l">570th</text>
<text x="2430" y="2423" class="l">600th</text><text x="2502" y="2423" class="l">630th</text><text x="2574" y="2423" class="l">660th</text><text x="2645" y="2423" class="l">690th</text><text x="2717" y="2423" class="l">720th</text><text x="2789" y="2423" class="l" style="fill:#222">750th</text><text x="2860" y="2423" class="l" style="fill:#222">780th</text><text x="2932" y="2423" class="l">810th</text><text x="3003" y="2423" class="l">840th</text><text x="3075" y="2423" class="l" style="fill:#222">870th</text></g>

<!-- Animation -->
<text x="2757" y="2477" class="bl m" font-size="41" textLength="663" lengthAdjust="spacingAndGlyphs">Animation style generated by MoGA</text>
<use href="#a1" x="2404" y="2502" width="133" height="73"/><use href="#a1" x="2547" y="2502" width="133" height="73"/><use href="#a1" x="2689" y="2502" width="133" height="73"/><use href="#a2" x="2832" y="2502" width="133" height="73"/><use href="#a2" x="2976" y="2502" width="133" height="73"/>
<use href="#a2" x="2404" y="2582" width="133" height="74"/><use href="#a3" x="2547" y="2582" width="133" height="74"/><use href="#a3" x="2689" y="2582" width="133" height="74"/><use href="#a4" x="2832" y="2582" width="133" height="74"/><use href="#a5" x="2976" y="2582" width="133" height="74"/>
<use href="#a5" x="2404" y="2664" width="133" height="73"/><use href="#a3" x="2547" y="2664" width="133" height="73"/><use href="#a3" x="2689" y="2664" width="133" height="73"/><use href="#a4" x="2832" y="2664" width="133" height="73"/><use href="#a4" x="2976" y="2664" width="133" height="73"/>
<use href="#a3" x="2404" y="2746" width="133" height="73"/><use href="#a3" x="2547" y="2746" width="133" height="73"/><use href="#a3" x="2689" y="2746" width="133" height="73"/><use href="#a5" x="2832" y="2746" width="133" height="73"/><use href="#a5" x="2976" y="2746" width="133" height="73"/>
<g><text x="2470" y="2571" class="a" style="fill:#222">1st</text><text x="2613" y="2571" class="a" style="fill:#222">30th</text><text x="2755" y="2571" class="a" style="fill:#222">60th</text><text x="2900" y="2571" class="a" style="fill:#222">150th</text><text x="3043" y="2571" class="a" style="fill:#222">180th</text>
<text x="2470" y="2651" class="a" style="fill:#222">210th</text><text x="2620" y="2651" class="a" style="fill:#222">240th</text><text x="2760" y="2651" class="a" style="fill:#222">270th</text><text x="2900" y="2651" class="a">300th</text><text x="3043" y="2651" class="a">330th</text>
<text x="2470" y="2733" class="a">360th</text><text x="2615" y="2733" class="a">390th</text><text x="2760" y="2733" class="a">420th</text><text x="2900" y="2733" class="a">450th</text><text x="3043" y="2733" class="a">480th</text>
<text x="2470" y="2816" class="a">510th</text><text x="2615" y="2816" class="a">540th</text><text x="2760" y="2816" class="a">570th</text><text x="2900" y="2816" class="a">600th</text><text x="3043" y="2816" class="a">630th</text></g>

<!-- Visual comparison -->
<text x="3607" y="2051" class="bl m" font-size="41" textLength="819" lengthAdjust="spacingAndGlyphs">Visual comparison of MoGA vs. full attention</text>
<use href="#m1" x="3260" y="2098" width="117" height="72"/><use href="#m2" x="3389" y="2098" width="117" height="72"/><use href="#m3" x="3518" y="2098" width="117" height="72"/><use href="#w1" x="3671" y="2098" width="117" height="72"/><use href="#w2" x="3797" y="2098" width="117" height="72"/><use href="#w3" x="3925" y="2098" width="117" height="72"/>
<use href="#m4" x="3260" y="2181" width="117" height="70"/><use href="#m5" x="3389" y="2181" width="117" height="70"/><use href="#m6" x="3518" y="2181" width="117" height="70"/><use href="#w4" x="3671" y="2181" width="117" height="70"/><use href="#w5" x="3797" y="2181" width="117" height="70"/><use href="#w6" x="3925" y="2181" width="117" height="70"/>
<use href="#n1" x="3260" y="2258" width="117" height="72"/><use href="#n2" x="3389" y="2258" width="117" height="72"/><use href="#n3" x="3518" y="2258" width="117" height="72"/><use href="#x1" x="3670" y="2258" width="117" height="72"/><use href="#x2" x="3797" y="2258" width="117" height="72"/><use href="#x3" x="3925" y="2258" width="117" height="72"/>
<use href="#n4" x="3259" y="2344" width="117" height="70"/><use href="#n5" x="3387" y="2344" width="117" height="70"/><use href="#n6" x="3516" y="2344" width="117" height="70"/><use href="#y1" x="3670" y="2344" width="117" height="70"/><use href="#y2" x="3795" y="2344" width="117" height="70"/><use href="#y3" x="3924" y="2344" width="117" height="70"/>
<path d="M3653 2102V2419" stroke="#111" stroke-width="2.5" stroke-dasharray="14 6"/>
<text x="3213" y="2140" class="c m" font-size="20" textLength="72" lengthAdjust="spacingAndGlyphs">Full Attn</text><text x="3212" y="2223" class="c m" font-size="20" textLength="50" lengthAdjust="spacingAndGlyphs">MoGA</text><text x="3213" y="2302" class="c m" font-size="20" textLength="72" lengthAdjust="spacingAndGlyphs">Full Attn</text><text x="3212" y="2385" class="c m" font-size="20" textLength="50" lengthAdjust="spacingAndGlyphs">MoGA</text>

<!-- Chart -->
<text x="3621" y="2500" class="bl m" font-size="41" textLength="460" lengthAdjust="spacingAndGlyphs">Computational efficiency</text>
<path d="M3216 2707H4057M3216 2651H4057M3216 2595H4057M3216 2762H4057" stroke="#e5e5e5" stroke-width="1.5" stroke-dasharray="3 3"/>
<path d="M3216 2560V2769H4057" fill="none" stroke="#555" stroke-width="2"/>
<g><text x="3218" y="2557" class="c" font-size="16">×10<tspan font-size="11" dy="-6">15</tspan></text>
<text x="3209" y="2768" class="c" font-size="16" text-anchor="end">0</text><text x="3209" y="2713" class="c" font-size="16" text-anchor="end">2</text><text x="3209" y="2657" class="c" font-size="16" text-anchor="end">4</text><text x="3209" y="2601" class="c" font-size="16" text-anchor="end">6</text>
<text x="3232" y="2799" class="c m" font-size="16">5</text><text x="3394" y="2799" class="c m" font-size="16">10</text><text x="3556" y="2799" class="c m" font-size="16">15</text><text x="3718" y="2799" class="c m" font-size="16">20</text><text x="4042" y="2799" class="c m" font-size="16">30</text>
<text transform="translate(3187 2665) rotate(-90)" class="c m" font-size="16">Compute (FLOPs)</text></g>
<polyline points="3232,2754 3394,2737.5 3556,2710.5 3718,2673.5 4042,2570" fill="none" stroke="#d4a017" stroke-width="3"/>
<polyline points="3232,2759 3394,2753 3556,2744 3718,2732 4042,2699" fill="none" stroke="#1f6f9f" stroke-width="3"/>
<polyline points="3232,2759 3394,2754 3556,2749 3718,2740 4042,2718" fill="none" stroke="#4fa832" stroke-width="3"/>
<polyline points="3232,2760 3394,2756 3556,2751 3718,2745 4042,2728" fill="none" stroke="#9b4fc0" stroke-width="3"/>
<g fill="#d4a017"><circle cx="3232" cy="2754" r="4"/><circle cx="3394" cy="2737.5" r="4"/><circle cx="3556" cy="2710.5" r="4"/><circle cx="3718" cy="2673.5" r="4"/><circle cx="4042" cy="2570" r="4"/></g>
<g fill="#9b4fc0"><circle cx="3232" cy="2760" r="4"/><circle cx="3394" cy="2756" r="4"/><circle cx="3556" cy="2751" r="4"/><circle cx="3718" cy="2745" r="4"/><circle cx="4042" cy="2728" r="4"/></g>
<g fill="#1f6f9f"><path d="M3718 2727l4 6h-8zM4042 2694l5 7h-10zM3556 2739l4 6h-8z"/></g><g fill="#4fa832"><rect x="4038" y="2714" width="8" height="8"/><rect x="3714" y="2736" width="8" height="8"/></g>
<rect x="3437" y="2557" width="362" height="53" rx="3" fill="#fff" stroke="#ccc" stroke-width="1.5"/>
<path d="M3442 2571H3477" stroke="#d4a017" stroke-width="3"/><circle cx="3460" cy="2571" r="4" fill="#d4a017"/>
<path d="M3442 2595H3477" stroke="#1f6f9f" stroke-width="3"/><path d="M3460 2589l5 8h-10z" fill="#1f6f9f"/>
<path d="M3631 2571H3666" stroke="#4fa832" stroke-width="3"/><rect x="3644" y="2567" width="8" height="8" fill="#4fa832"/>
<path d="M3631 2595H3666" stroke="#9b4fc0" stroke-width="3"/><circle cx="3648" cy="2595" r="4" fill="#9b4fc0"/>
<text x="3489" y="2576" class="c" font-size="16" textLength="109" lengthAdjust="spacingAndGlyphs">Full Attention</text><text x="3489" y="2600" class="c" font-size="16" textLength="104" lengthAdjust="spacingAndGlyphs">MoGA (M=5)</text><text x="3678" y="2576" class="c" font-size="16" textLength="115" lengthAdjust="spacingAndGlyphs">MoGA (M=10)</text><text x="3678" y="2600" class="c" font-size="16" textLength="115" lengthAdjust="spacingAndGlyphs">MoGA (M=20)</text>
</svg>
</body></html>
